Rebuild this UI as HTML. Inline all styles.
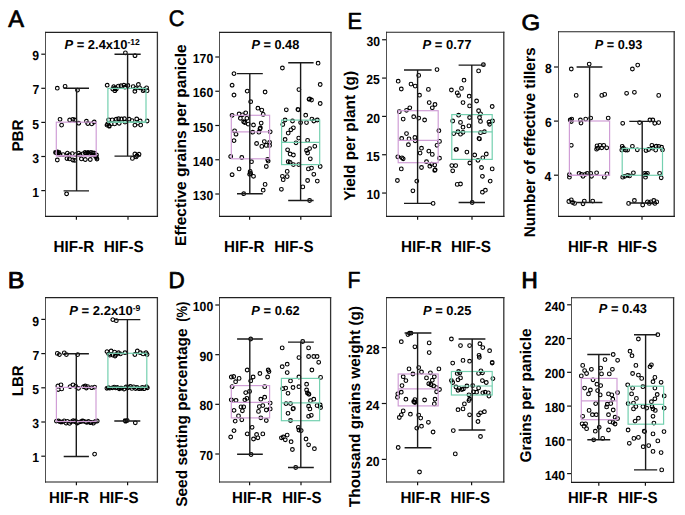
<!DOCTYPE html><html><head><meta charset="utf-8"><style>html,body{margin:0;padding:0;background:#fff;width:685px;height:515px;overflow:hidden}svg{display:block}text{font-family:"Liberation Sans", sans-serif;text-rendering:geometricPrecision}</style></head><body>
<svg width="685" height="515" viewBox="0 0 685 515">
<rect width="685" height="515" fill="#fff"/>
<text transform="translate(8.20 26.55) scale(0.9865 0.9872)" font-size="24.0" font-weight="normal" stroke="#000" stroke-width="0.70" stroke-linejoin="round">A</text>
<text transform="translate(23.30 151.62) rotate(-90) scale(1.0178 1.0368)" font-size="15.0" font-weight="bold">PBR</text>
<line x1="41.3" y1="190.60" x2="45.6" y2="190.60" stroke="#111" stroke-width="1.2"/>
<text transform="translate(32.18 196.70) scale(1.0000 1.0767)" font-size="12.2" font-weight="bold">1</text>
<line x1="41.3" y1="156.50" x2="45.6" y2="156.50" stroke="#111" stroke-width="1.2"/>
<text transform="translate(32.28 162.60) scale(1.0000 1.0767)" font-size="12.2" font-weight="bold">3</text>
<line x1="41.3" y1="122.40" x2="45.6" y2="122.40" stroke="#111" stroke-width="1.2"/>
<text transform="translate(32.18 128.50) scale(1.0000 1.0767)" font-size="12.2" font-weight="bold">5</text>
<line x1="41.3" y1="88.30" x2="45.6" y2="88.30" stroke="#111" stroke-width="1.2"/>
<text transform="translate(32.38 94.40) scale(1.0000 1.0767)" font-size="12.2" font-weight="bold">7</text>
<line x1="41.3" y1="54.20" x2="45.6" y2="54.20" stroke="#111" stroke-width="1.2"/>
<text transform="translate(32.29 60.30) scale(1.0000 1.0767)" font-size="12.2" font-weight="bold">9</text>
<line x1="76.4" y1="216.4" x2="76.4" y2="219.7" stroke="#111" stroke-width="1.2"/>
<line x1="128.0" y1="216.4" x2="128.0" y2="219.7" stroke="#111" stroke-width="1.2"/>
<text transform="translate(53.58 252.00) scale(1.0160 1.0659)" font-size="15.0" font-weight="bold">HIF-R</text>
<text transform="translate(103.78 252.00) scale(1.0193 1.0659)" font-size="15.0" font-weight="bold">HIF-S</text>
<text transform="translate(64.47 49.10) scale(1.0347 1.0349)" font-size="12.5" font-weight="bold"><tspan font-style="italic">P</tspan> = 2.4x10<tspan font-size="8.3" dy="-3.6">-12</tspan></text>
<path d="M55.45 88.20a1.85 1.85 0 1 0 3.70 0a1.85 1.85 0 1 0 -3.70 0zM63.25 86.30a1.85 1.85 0 1 0 3.70 0a1.85 1.85 0 1 0 -3.70 0zM75.65 90.10a1.85 1.85 0 1 0 3.70 0a1.85 1.85 0 1 0 -3.70 0zM58.15 119.30a1.85 1.85 0 1 0 3.70 0a1.85 1.85 0 1 0 -3.70 0zM59.75 125.10a1.85 1.85 0 1 0 3.70 0a1.85 1.85 0 1 0 -3.70 0zM67.85 120.00a1.85 1.85 0 1 0 3.70 0a1.85 1.85 0 1 0 -3.70 0zM71.05 119.30a1.85 1.85 0 1 0 3.70 0a1.85 1.85 0 1 0 -3.70 0zM72.95 120.00a1.85 1.85 0 1 0 3.70 0a1.85 1.85 0 1 0 -3.70 0zM76.85 123.20a1.85 1.85 0 1 0 3.70 0a1.85 1.85 0 1 0 -3.70 0zM84.55 121.20a1.85 1.85 0 1 0 3.70 0a1.85 1.85 0 1 0 -3.70 0zM85.95 123.50a1.85 1.85 0 1 0 3.70 0a1.85 1.85 0 1 0 -3.70 0zM89.85 123.90a1.85 1.85 0 1 0 3.70 0a1.85 1.85 0 1 0 -3.70 0zM92.35 122.00a1.85 1.85 0 1 0 3.70 0a1.85 1.85 0 1 0 -3.70 0zM54.35 152.70a1.85 1.85 0 1 0 3.70 0a1.85 1.85 0 1 0 -3.70 0zM56.25 153.60a1.85 1.85 0 1 0 3.70 0a1.85 1.85 0 1 0 -3.70 0zM58.15 154.60a1.85 1.85 0 1 0 3.70 0a1.85 1.85 0 1 0 -3.70 0zM55.45 160.00a1.85 1.85 0 1 0 3.70 0a1.85 1.85 0 1 0 -3.70 0zM61.25 154.60a1.85 1.85 0 1 0 3.70 0a1.85 1.85 0 1 0 -3.70 0zM65.55 153.10a1.85 1.85 0 1 0 3.70 0a1.85 1.85 0 1 0 -3.70 0zM65.15 158.50a1.85 1.85 0 1 0 3.70 0a1.85 1.85 0 1 0 -3.70 0zM67.55 154.60a1.85 1.85 0 1 0 3.70 0a1.85 1.85 0 1 0 -3.70 0zM70.45 153.60a1.85 1.85 0 1 0 3.70 0a1.85 1.85 0 1 0 -3.70 0zM71.05 160.00a1.85 1.85 0 1 0 3.70 0a1.85 1.85 0 1 0 -3.70 0zM73.75 154.60a1.85 1.85 0 1 0 3.70 0a1.85 1.85 0 1 0 -3.70 0zM76.85 153.10a1.85 1.85 0 1 0 3.70 0a1.85 1.85 0 1 0 -3.70 0zM78.15 155.00a1.85 1.85 0 1 0 3.70 0a1.85 1.85 0 1 0 -3.70 0zM79.55 158.90a1.85 1.85 0 1 0 3.70 0a1.85 1.85 0 1 0 -3.70 0zM81.15 153.60a1.85 1.85 0 1 0 3.70 0a1.85 1.85 0 1 0 -3.70 0zM83.45 159.50a1.85 1.85 0 1 0 3.70 0a1.85 1.85 0 1 0 -3.70 0zM84.95 153.10a1.85 1.85 0 1 0 3.70 0a1.85 1.85 0 1 0 -3.70 0zM87.35 153.60a1.85 1.85 0 1 0 3.70 0a1.85 1.85 0 1 0 -3.70 0zM88.45 159.50a1.85 1.85 0 1 0 3.70 0a1.85 1.85 0 1 0 -3.70 0zM90.45 154.60a1.85 1.85 0 1 0 3.70 0a1.85 1.85 0 1 0 -3.70 0zM92.75 153.10a1.85 1.85 0 1 0 3.70 0a1.85 1.85 0 1 0 -3.70 0zM93.75 156.60a1.85 1.85 0 1 0 3.70 0a1.85 1.85 0 1 0 -3.70 0zM94.65 155.00a1.85 1.85 0 1 0 3.70 0a1.85 1.85 0 1 0 -3.70 0zM72.95 160.40a1.85 1.85 0 1 0 3.70 0a1.85 1.85 0 1 0 -3.70 0zM67.55 158.90a1.85 1.85 0 1 0 3.70 0a1.85 1.85 0 1 0 -3.70 0zM53.65 152.50a1.85 1.85 0 1 0 3.70 0a1.85 1.85 0 1 0 -3.70 0zM55.65 151.80a1.85 1.85 0 1 0 3.70 0a1.85 1.85 0 1 0 -3.70 0zM57.15 152.50a1.85 1.85 0 1 0 3.70 0a1.85 1.85 0 1 0 -3.70 0zM83.15 152.50a1.85 1.85 0 1 0 3.70 0a1.85 1.85 0 1 0 -3.70 0zM86.15 152.50a1.85 1.85 0 1 0 3.70 0a1.85 1.85 0 1 0 -3.70 0zM89.15 152.50a1.85 1.85 0 1 0 3.70 0a1.85 1.85 0 1 0 -3.70 0zM91.15 153.00a1.85 1.85 0 1 0 3.70 0a1.85 1.85 0 1 0 -3.70 0zM94.65 157.50a1.85 1.85 0 1 0 3.70 0a1.85 1.85 0 1 0 -3.70 0zM95.15 159.00a1.85 1.85 0 1 0 3.70 0a1.85 1.85 0 1 0 -3.70 0zM64.75 193.80a1.85 1.85 0 1 0 3.70 0a1.85 1.85 0 1 0 -3.70 0z" fill="none" stroke="#000" stroke-width="1.10"/>
<path d="M123.55 52.90a1.85 1.85 0 1 0 3.70 0a1.85 1.85 0 1 0 -3.70 0zM133.15 55.70a1.85 1.85 0 1 0 3.70 0a1.85 1.85 0 1 0 -3.70 0zM105.35 85.20a1.85 1.85 0 1 0 3.70 0a1.85 1.85 0 1 0 -3.70 0zM111.85 86.60a1.85 1.85 0 1 0 3.70 0a1.85 1.85 0 1 0 -3.70 0zM110.95 89.00a1.85 1.85 0 1 0 3.70 0a1.85 1.85 0 1 0 -3.70 0zM113.05 90.70a1.85 1.85 0 1 0 3.70 0a1.85 1.85 0 1 0 -3.70 0zM114.45 89.00a1.85 1.85 0 1 0 3.70 0a1.85 1.85 0 1 0 -3.70 0zM116.55 86.10a1.85 1.85 0 1 0 3.70 0a1.85 1.85 0 1 0 -3.70 0zM119.15 85.70a1.85 1.85 0 1 0 3.70 0a1.85 1.85 0 1 0 -3.70 0zM122.05 85.20a1.85 1.85 0 1 0 3.70 0a1.85 1.85 0 1 0 -3.70 0zM123.15 87.20a1.85 1.85 0 1 0 3.70 0a1.85 1.85 0 1 0 -3.70 0zM126.05 85.50a1.85 1.85 0 1 0 3.70 0a1.85 1.85 0 1 0 -3.70 0zM131.35 86.60a1.85 1.85 0 1 0 3.70 0a1.85 1.85 0 1 0 -3.70 0zM133.05 91.30a1.85 1.85 0 1 0 3.70 0a1.85 1.85 0 1 0 -3.70 0zM133.65 88.40a1.85 1.85 0 1 0 3.70 0a1.85 1.85 0 1 0 -3.70 0zM136.55 84.50a1.85 1.85 0 1 0 3.70 0a1.85 1.85 0 1 0 -3.70 0zM137.75 87.80a1.85 1.85 0 1 0 3.70 0a1.85 1.85 0 1 0 -3.70 0zM141.25 90.70a1.85 1.85 0 1 0 3.70 0a1.85 1.85 0 1 0 -3.70 0zM144.75 87.80a1.85 1.85 0 1 0 3.70 0a1.85 1.85 0 1 0 -3.70 0zM145.25 90.70a1.85 1.85 0 1 0 3.70 0a1.85 1.85 0 1 0 -3.70 0zM142.35 89.60a1.85 1.85 0 1 0 3.70 0a1.85 1.85 0 1 0 -3.70 0zM113.25 88.00a1.85 1.85 0 1 0 3.70 0a1.85 1.85 0 1 0 -3.70 0zM106.85 119.80a1.85 1.85 0 1 0 3.70 0a1.85 1.85 0 1 0 -3.70 0zM105.75 123.90a1.85 1.85 0 1 0 3.70 0a1.85 1.85 0 1 0 -3.70 0zM107.25 125.60a1.85 1.85 0 1 0 3.70 0a1.85 1.85 0 1 0 -3.70 0zM109.25 123.90a1.85 1.85 0 1 0 3.70 0a1.85 1.85 0 1 0 -3.70 0zM110.35 119.80a1.85 1.85 0 1 0 3.70 0a1.85 1.85 0 1 0 -3.70 0zM112.75 123.90a1.85 1.85 0 1 0 3.70 0a1.85 1.85 0 1 0 -3.70 0zM114.45 119.20a1.85 1.85 0 1 0 3.70 0a1.85 1.85 0 1 0 -3.70 0zM116.75 118.70a1.85 1.85 0 1 0 3.70 0a1.85 1.85 0 1 0 -3.70 0zM117.35 123.30a1.85 1.85 0 1 0 3.70 0a1.85 1.85 0 1 0 -3.70 0zM119.65 119.00a1.85 1.85 0 1 0 3.70 0a1.85 1.85 0 1 0 -3.70 0zM122.55 118.70a1.85 1.85 0 1 0 3.70 0a1.85 1.85 0 1 0 -3.70 0zM123.15 122.10a1.85 1.85 0 1 0 3.70 0a1.85 1.85 0 1 0 -3.70 0zM127.25 119.20a1.85 1.85 0 1 0 3.70 0a1.85 1.85 0 1 0 -3.70 0zM130.15 120.60a1.85 1.85 0 1 0 3.70 0a1.85 1.85 0 1 0 -3.70 0zM133.05 125.10a1.85 1.85 0 1 0 3.70 0a1.85 1.85 0 1 0 -3.70 0zM134.85 119.00a1.85 1.85 0 1 0 3.70 0a1.85 1.85 0 1 0 -3.70 0zM135.95 123.00a1.85 1.85 0 1 0 3.70 0a1.85 1.85 0 1 0 -3.70 0zM138.85 125.10a1.85 1.85 0 1 0 3.70 0a1.85 1.85 0 1 0 -3.70 0zM138.35 121.00a1.85 1.85 0 1 0 3.70 0a1.85 1.85 0 1 0 -3.70 0zM145.25 121.00a1.85 1.85 0 1 0 3.70 0a1.85 1.85 0 1 0 -3.70 0zM105.15 125.10a1.85 1.85 0 1 0 3.70 0a1.85 1.85 0 1 0 -3.70 0zM107.45 126.20a1.85 1.85 0 1 0 3.70 0a1.85 1.85 0 1 0 -3.70 0zM130.55 158.40a1.85 1.85 0 1 0 3.70 0a1.85 1.85 0 1 0 -3.70 0zM133.05 154.00a1.85 1.85 0 1 0 3.70 0a1.85 1.85 0 1 0 -3.70 0zM135.15 155.70a1.85 1.85 0 1 0 3.70 0a1.85 1.85 0 1 0 -3.70 0zM137.15 154.20a1.85 1.85 0 1 0 3.70 0a1.85 1.85 0 1 0 -3.70 0zM134.25 156.90a1.85 1.85 0 1 0 3.70 0a1.85 1.85 0 1 0 -3.70 0z" fill="none" stroke="#000" stroke-width="1.10"/>
<rect x="56.30" y="122.20" width="39.90" height="33.70" fill="none" stroke="#d09ed6" stroke-width="1.20"/>
<line x1="56.30" y1="155.90" x2="96.20" y2="155.90" stroke="#d09ed6" stroke-width="1.20"/>
<rect x="107.90" y="88.40" width="38.10" height="33.70" fill="none" stroke="#74d0b0" stroke-width="1.20"/>
<line x1="107.90" y1="122.10" x2="146.00" y2="122.10" stroke="#74d0b0" stroke-width="1.20"/>
<path d="M76.60 190.90V88.20M63.60 190.90H89.00M63.60 88.20H89.00" stroke="#1a1a1a" stroke-width="1.40" fill="none"/>
<path d="M127.60 156.10V54.30M114.50 156.10H140.70M114.50 54.30H140.70" stroke="#1a1a1a" stroke-width="1.40" fill="none"/>
<path d="M45.50 31.90V217.00" stroke="#505050" stroke-width="1.0" fill="none"/>
<path d="M45.00 32.40H158.00" stroke="#222" stroke-width="1.1" fill="none"/>
<path d="M157.40 31.90V217.00" stroke="#333" stroke-width="1.3" fill="none"/>
<path d="M45.00 216.40H158.00" stroke="#1a1a1a" stroke-width="1.2" fill="none"/>
<text transform="translate(7.77 287.57) scale(1.0451 0.9539)" font-size="24.0" font-weight="normal" stroke="#000" stroke-width="0.85" stroke-linejoin="round">B</text>
<text transform="translate(23.30 396.20) rotate(-90) scale(0.9994 1.0368)" font-size="15.0" font-weight="bold">LBR</text>
<line x1="41.3" y1="456.20" x2="45.6" y2="456.20" stroke="#111" stroke-width="1.2"/>
<text transform="translate(32.18 462.30) scale(1.0000 1.0767)" font-size="12.2" font-weight="bold">1</text>
<line x1="41.3" y1="422.00" x2="45.6" y2="422.00" stroke="#111" stroke-width="1.2"/>
<text transform="translate(32.28 428.10) scale(1.0000 1.0767)" font-size="12.2" font-weight="bold">3</text>
<line x1="41.3" y1="387.80" x2="45.6" y2="387.80" stroke="#111" stroke-width="1.2"/>
<text transform="translate(32.18 393.90) scale(1.0000 1.0767)" font-size="12.2" font-weight="bold">5</text>
<line x1="41.3" y1="353.60" x2="45.6" y2="353.60" stroke="#111" stroke-width="1.2"/>
<text transform="translate(32.38 359.70) scale(1.0000 1.0767)" font-size="12.2" font-weight="bold">7</text>
<line x1="41.3" y1="319.40" x2="45.6" y2="319.40" stroke="#111" stroke-width="1.2"/>
<text transform="translate(32.29 325.50) scale(1.0000 1.0767)" font-size="12.2" font-weight="bold">9</text>
<line x1="76.4" y1="482.0" x2="76.4" y2="485.3" stroke="#111" stroke-width="1.2"/>
<line x1="127.6" y1="482.0" x2="127.6" y2="485.3" stroke="#111" stroke-width="1.2"/>
<text transform="translate(49.10 502.80) scale(1.0005 1.0659)" font-size="15.0" font-weight="bold">HIF-R</text>
<text transform="translate(99.19 502.80) scale(1.0060 1.0659)" font-size="15.0" font-weight="bold">HIF-S</text>
<text transform="translate(69.17 315.00) scale(1.0448 1.0349)" font-size="12.5" font-weight="bold"><tspan font-style="italic">P</tspan> = 2.2x10<tspan font-size="8.3" dy="-3.6">-9</tspan></text>
<path d="M55.45 353.40a1.85 1.85 0 1 0 3.70 0a1.85 1.85 0 1 0 -3.70 0zM57.55 354.60a1.85 1.85 0 1 0 3.70 0a1.85 1.85 0 1 0 -3.70 0zM62.45 352.80a1.85 1.85 0 1 0 3.70 0a1.85 1.85 0 1 0 -3.70 0zM64.55 354.60a1.85 1.85 0 1 0 3.70 0a1.85 1.85 0 1 0 -3.70 0zM75.85 354.60a1.85 1.85 0 1 0 3.70 0a1.85 1.85 0 1 0 -3.70 0zM56.05 386.00a1.85 1.85 0 1 0 3.70 0a1.85 1.85 0 1 0 -3.70 0zM59.15 384.80a1.85 1.85 0 1 0 3.70 0a1.85 1.85 0 1 0 -3.70 0zM56.35 389.50a1.85 1.85 0 1 0 3.70 0a1.85 1.85 0 1 0 -3.70 0zM59.85 388.90a1.85 1.85 0 1 0 3.70 0a1.85 1.85 0 1 0 -3.70 0zM68.25 386.60a1.85 1.85 0 1 0 3.70 0a1.85 1.85 0 1 0 -3.70 0zM71.15 384.80a1.85 1.85 0 1 0 3.70 0a1.85 1.85 0 1 0 -3.70 0zM73.85 386.30a1.85 1.85 0 1 0 3.70 0a1.85 1.85 0 1 0 -3.70 0zM76.65 388.30a1.85 1.85 0 1 0 3.70 0a1.85 1.85 0 1 0 -3.70 0zM81.65 386.60a1.85 1.85 0 1 0 3.70 0a1.85 1.85 0 1 0 -3.70 0zM83.45 386.00a1.85 1.85 0 1 0 3.70 0a1.85 1.85 0 1 0 -3.70 0zM85.75 386.60a1.85 1.85 0 1 0 3.70 0a1.85 1.85 0 1 0 -3.70 0zM84.55 388.00a1.85 1.85 0 1 0 3.70 0a1.85 1.85 0 1 0 -3.70 0zM89.85 387.70a1.85 1.85 0 1 0 3.70 0a1.85 1.85 0 1 0 -3.70 0zM92.75 387.10a1.85 1.85 0 1 0 3.70 0a1.85 1.85 0 1 0 -3.70 0zM54.55 421.10a1.85 1.85 0 1 0 3.70 0a1.85 1.85 0 1 0 -3.70 0zM56.55 420.80a1.85 1.85 0 1 0 3.70 0a1.85 1.85 0 1 0 -3.70 0zM57.95 421.70a1.85 1.85 0 1 0 3.70 0a1.85 1.85 0 1 0 -3.70 0zM59.05 422.10a1.85 1.85 0 1 0 3.70 0a1.85 1.85 0 1 0 -3.70 0zM60.55 421.90a1.85 1.85 0 1 0 3.70 0a1.85 1.85 0 1 0 -3.70 0zM62.25 420.90a1.85 1.85 0 1 0 3.70 0a1.85 1.85 0 1 0 -3.70 0zM64.25 423.10a1.85 1.85 0 1 0 3.70 0a1.85 1.85 0 1 0 -3.70 0zM65.45 421.30a1.85 1.85 0 1 0 3.70 0a1.85 1.85 0 1 0 -3.70 0zM67.75 423.40a1.85 1.85 0 1 0 3.70 0a1.85 1.85 0 1 0 -3.70 0zM69.25 421.80a1.85 1.85 0 1 0 3.70 0a1.85 1.85 0 1 0 -3.70 0zM71.35 420.70a1.85 1.85 0 1 0 3.70 0a1.85 1.85 0 1 0 -3.70 0zM72.75 421.50a1.85 1.85 0 1 0 3.70 0a1.85 1.85 0 1 0 -3.70 0zM73.55 421.00a1.85 1.85 0 1 0 3.70 0a1.85 1.85 0 1 0 -3.70 0zM75.35 423.00a1.85 1.85 0 1 0 3.70 0a1.85 1.85 0 1 0 -3.70 0zM76.75 422.30a1.85 1.85 0 1 0 3.70 0a1.85 1.85 0 1 0 -3.70 0zM78.95 421.70a1.85 1.85 0 1 0 3.70 0a1.85 1.85 0 1 0 -3.70 0zM80.45 420.80a1.85 1.85 0 1 0 3.70 0a1.85 1.85 0 1 0 -3.70 0zM81.45 421.20a1.85 1.85 0 1 0 3.70 0a1.85 1.85 0 1 0 -3.70 0zM83.75 421.90a1.85 1.85 0 1 0 3.70 0a1.85 1.85 0 1 0 -3.70 0zM84.95 422.40a1.85 1.85 0 1 0 3.70 0a1.85 1.85 0 1 0 -3.70 0zM86.65 421.50a1.85 1.85 0 1 0 3.70 0a1.85 1.85 0 1 0 -3.70 0zM88.75 422.70a1.85 1.85 0 1 0 3.70 0a1.85 1.85 0 1 0 -3.70 0zM89.65 422.30a1.85 1.85 0 1 0 3.70 0a1.85 1.85 0 1 0 -3.70 0zM91.55 423.20a1.85 1.85 0 1 0 3.70 0a1.85 1.85 0 1 0 -3.70 0zM93.45 421.50a1.85 1.85 0 1 0 3.70 0a1.85 1.85 0 1 0 -3.70 0zM95.35 421.00a1.85 1.85 0 1 0 3.70 0a1.85 1.85 0 1 0 -3.70 0zM92.75 454.10a1.85 1.85 0 1 0 3.70 0a1.85 1.85 0 1 0 -3.70 0z" fill="none" stroke="#000" stroke-width="1.10"/>
<path d="M110.95 319.60a1.85 1.85 0 1 0 3.70 0a1.85 1.85 0 1 0 -3.70 0zM114.45 320.70a1.85 1.85 0 1 0 3.70 0a1.85 1.85 0 1 0 -3.70 0zM105.15 351.60a1.85 1.85 0 1 0 3.70 0a1.85 1.85 0 1 0 -3.70 0zM106.85 353.90a1.85 1.85 0 1 0 3.70 0a1.85 1.85 0 1 0 -3.70 0zM109.25 351.00a1.85 1.85 0 1 0 3.70 0a1.85 1.85 0 1 0 -3.70 0zM110.95 355.10a1.85 1.85 0 1 0 3.70 0a1.85 1.85 0 1 0 -3.70 0zM112.75 352.10a1.85 1.85 0 1 0 3.70 0a1.85 1.85 0 1 0 -3.70 0zM114.45 354.50a1.85 1.85 0 1 0 3.70 0a1.85 1.85 0 1 0 -3.70 0zM116.75 352.70a1.85 1.85 0 1 0 3.70 0a1.85 1.85 0 1 0 -3.70 0zM118.55 353.90a1.85 1.85 0 1 0 3.70 0a1.85 1.85 0 1 0 -3.70 0zM123.15 352.70a1.85 1.85 0 1 0 3.70 0a1.85 1.85 0 1 0 -3.70 0zM133.05 354.50a1.85 1.85 0 1 0 3.70 0a1.85 1.85 0 1 0 -3.70 0zM135.45 351.00a1.85 1.85 0 1 0 3.70 0a1.85 1.85 0 1 0 -3.70 0zM138.35 352.70a1.85 1.85 0 1 0 3.70 0a1.85 1.85 0 1 0 -3.70 0zM141.25 353.90a1.85 1.85 0 1 0 3.70 0a1.85 1.85 0 1 0 -3.70 0zM144.15 352.70a1.85 1.85 0 1 0 3.70 0a1.85 1.85 0 1 0 -3.70 0zM145.25 354.50a1.85 1.85 0 1 0 3.70 0a1.85 1.85 0 1 0 -3.70 0zM108.05 355.10a1.85 1.85 0 1 0 3.70 0a1.85 1.85 0 1 0 -3.70 0zM113.25 356.00a1.85 1.85 0 1 0 3.70 0a1.85 1.85 0 1 0 -3.70 0zM105.05 388.30a1.85 1.85 0 1 0 3.70 0a1.85 1.85 0 1 0 -3.70 0zM106.45 387.60a1.85 1.85 0 1 0 3.70 0a1.85 1.85 0 1 0 -3.70 0zM107.95 388.10a1.85 1.85 0 1 0 3.70 0a1.85 1.85 0 1 0 -3.70 0zM110.55 387.80a1.85 1.85 0 1 0 3.70 0a1.85 1.85 0 1 0 -3.70 0zM112.35 387.10a1.85 1.85 0 1 0 3.70 0a1.85 1.85 0 1 0 -3.70 0zM113.85 387.90a1.85 1.85 0 1 0 3.70 0a1.85 1.85 0 1 0 -3.70 0zM115.45 387.50a1.85 1.85 0 1 0 3.70 0a1.85 1.85 0 1 0 -3.70 0zM117.45 388.80a1.85 1.85 0 1 0 3.70 0a1.85 1.85 0 1 0 -3.70 0zM118.65 388.10a1.85 1.85 0 1 0 3.70 0a1.85 1.85 0 1 0 -3.70 0zM119.85 388.20a1.85 1.85 0 1 0 3.70 0a1.85 1.85 0 1 0 -3.70 0zM122.25 389.00a1.85 1.85 0 1 0 3.70 0a1.85 1.85 0 1 0 -3.70 0zM124.15 387.00a1.85 1.85 0 1 0 3.70 0a1.85 1.85 0 1 0 -3.70 0zM125.35 388.10a1.85 1.85 0 1 0 3.70 0a1.85 1.85 0 1 0 -3.70 0zM126.65 387.50a1.85 1.85 0 1 0 3.70 0a1.85 1.85 0 1 0 -3.70 0zM128.45 386.50a1.85 1.85 0 1 0 3.70 0a1.85 1.85 0 1 0 -3.70 0zM130.05 388.40a1.85 1.85 0 1 0 3.70 0a1.85 1.85 0 1 0 -3.70 0zM131.85 386.90a1.85 1.85 0 1 0 3.70 0a1.85 1.85 0 1 0 -3.70 0zM133.85 388.60a1.85 1.85 0 1 0 3.70 0a1.85 1.85 0 1 0 -3.70 0zM135.15 387.50a1.85 1.85 0 1 0 3.70 0a1.85 1.85 0 1 0 -3.70 0zM137.45 388.70a1.85 1.85 0 1 0 3.70 0a1.85 1.85 0 1 0 -3.70 0zM139.45 388.60a1.85 1.85 0 1 0 3.70 0a1.85 1.85 0 1 0 -3.70 0zM140.45 387.40a1.85 1.85 0 1 0 3.70 0a1.85 1.85 0 1 0 -3.70 0zM142.25 388.70a1.85 1.85 0 1 0 3.70 0a1.85 1.85 0 1 0 -3.70 0zM144.65 386.60a1.85 1.85 0 1 0 3.70 0a1.85 1.85 0 1 0 -3.70 0zM145.45 387.80a1.85 1.85 0 1 0 3.70 0a1.85 1.85 0 1 0 -3.70 0zM123.25 420.70a1.85 1.85 0 1 0 3.70 0a1.85 1.85 0 1 0 -3.70 0zM123.75 421.20a1.85 1.85 0 1 0 3.70 0a1.85 1.85 0 1 0 -3.70 0zM125.35 420.50a1.85 1.85 0 1 0 3.70 0a1.85 1.85 0 1 0 -3.70 0zM133.45 422.80a1.85 1.85 0 1 0 3.70 0a1.85 1.85 0 1 0 -3.70 0z" fill="none" stroke="#000" stroke-width="1.10"/>
<rect x="56.40" y="387.40" width="39.60" height="34.10" fill="none" stroke="#d09ed6" stroke-width="1.20"/>
<line x1="56.40" y1="421.50" x2="96.00" y2="421.50" stroke="#d09ed6" stroke-width="1.20"/>
<rect x="107.90" y="353.30" width="38.90" height="34.10" fill="none" stroke="#74d0b0" stroke-width="1.20"/>
<line x1="107.90" y1="387.40" x2="146.80" y2="387.40" stroke="#74d0b0" stroke-width="1.20"/>
<path d="M76.30 456.50V353.70M63.70 456.50H88.90M63.70 353.70H88.90" stroke="#1a1a1a" stroke-width="1.40" fill="none"/>
<path d="M127.40 421.00V319.60M114.30 421.00H140.30M114.30 319.60H140.30" stroke="#1a1a1a" stroke-width="1.40" fill="none"/>
<path d="M45.50 297.10V482.60" stroke="#505050" stroke-width="1.0" fill="none"/>
<path d="M45.00 297.60H158.00" stroke="#222" stroke-width="1.1" fill="none"/>
<path d="M157.40 297.10V482.60" stroke="#333" stroke-width="1.3" fill="none"/>
<path d="M45.00 482.00H158.00" stroke="#1a1a1a" stroke-width="1.2" fill="none"/>
<text transform="translate(168.79 26.18) scale(0.9079 0.9416)" font-size="24.0" font-weight="normal" stroke="#000" stroke-width="0.60" stroke-linejoin="round">C</text>
<text transform="translate(186.00 245.94) rotate(-90) scale(1.0338 1.0368)" font-size="15.0" font-weight="bold">Effective grains per panicle</text>
<line x1="215.3" y1="194.00" x2="219.6" y2="194.00" stroke="#111" stroke-width="1.2"/>
<text transform="translate(192.83 200.10) scale(1.0000 1.0767)" font-size="12.2" font-weight="bold">130</text>
<line x1="215.3" y1="159.75" x2="219.6" y2="159.75" stroke="#111" stroke-width="1.2"/>
<text transform="translate(192.83 165.85) scale(1.0000 1.0767)" font-size="12.2" font-weight="bold">140</text>
<line x1="215.3" y1="125.50" x2="219.6" y2="125.50" stroke="#111" stroke-width="1.2"/>
<text transform="translate(192.83 131.60) scale(1.0000 1.0767)" font-size="12.2" font-weight="bold">150</text>
<line x1="215.3" y1="91.25" x2="219.6" y2="91.25" stroke="#111" stroke-width="1.2"/>
<text transform="translate(192.83 97.35) scale(1.0000 1.0767)" font-size="12.2" font-weight="bold">160</text>
<line x1="215.3" y1="57.00" x2="219.6" y2="57.00" stroke="#111" stroke-width="1.2"/>
<text transform="translate(192.83 63.10) scale(1.0000 1.0767)" font-size="12.2" font-weight="bold">170</text>
<line x1="249.6" y1="216.4" x2="249.6" y2="219.7" stroke="#111" stroke-width="1.2"/>
<line x1="300.8" y1="216.4" x2="300.8" y2="219.7" stroke="#111" stroke-width="1.2"/>
<text transform="translate(224.09 252.00) scale(1.0083 1.0659)" font-size="15.0" font-weight="bold">HIF-R</text>
<text transform="translate(274.19 252.00) scale(1.0087 1.0659)" font-size="15.0" font-weight="bold">HIF-S</text>
<text transform="translate(251.38 49.30) scale(1.0218 1.0349)" font-size="12.5" font-weight="bold"><tspan font-style="italic">P</tspan> = 0.48</text>
<path d="M232.15 73.60a1.85 1.85 0 1 0 3.70 0a1.85 1.85 0 1 0 -3.70 0zM230.25 85.20a1.85 1.85 0 1 0 3.70 0a1.85 1.85 0 1 0 -3.70 0zM232.15 95.00a1.85 1.85 0 1 0 3.70 0a1.85 1.85 0 1 0 -3.70 0zM245.35 91.10a1.85 1.85 0 1 0 3.70 0a1.85 1.85 0 1 0 -3.70 0zM263.25 92.00a1.85 1.85 0 1 0 3.70 0a1.85 1.85 0 1 0 -3.70 0zM248.85 101.70a1.85 1.85 0 1 0 3.70 0a1.85 1.85 0 1 0 -3.70 0zM256.05 108.20a1.85 1.85 0 1 0 3.70 0a1.85 1.85 0 1 0 -3.70 0zM259.95 110.10a1.85 1.85 0 1 0 3.70 0a1.85 1.85 0 1 0 -3.70 0zM261.35 114.40a1.85 1.85 0 1 0 3.70 0a1.85 1.85 0 1 0 -3.70 0zM230.25 115.30a1.85 1.85 0 1 0 3.70 0a1.85 1.85 0 1 0 -3.70 0zM237.25 114.00a1.85 1.85 0 1 0 3.70 0a1.85 1.85 0 1 0 -3.70 0zM240.55 114.80a1.85 1.85 0 1 0 3.70 0a1.85 1.85 0 1 0 -3.70 0zM243.85 112.80a1.85 1.85 0 1 0 3.70 0a1.85 1.85 0 1 0 -3.70 0zM238.55 118.30a1.85 1.85 0 1 0 3.70 0a1.85 1.85 0 1 0 -3.70 0zM241.85 121.70a1.85 1.85 0 1 0 3.70 0a1.85 1.85 0 1 0 -3.70 0zM245.05 118.30a1.85 1.85 0 1 0 3.70 0a1.85 1.85 0 1 0 -3.70 0zM243.05 122.50a1.85 1.85 0 1 0 3.70 0a1.85 1.85 0 1 0 -3.70 0zM246.35 124.10a1.85 1.85 0 1 0 3.70 0a1.85 1.85 0 1 0 -3.70 0zM251.65 125.00a1.85 1.85 0 1 0 3.70 0a1.85 1.85 0 1 0 -3.70 0zM259.35 123.10a1.85 1.85 0 1 0 3.70 0a1.85 1.85 0 1 0 -3.70 0zM258.05 128.90a1.85 1.85 0 1 0 3.70 0a1.85 1.85 0 1 0 -3.70 0zM258.55 128.00a1.85 1.85 0 1 0 3.70 0a1.85 1.85 0 1 0 -3.70 0zM232.75 130.90a1.85 1.85 0 1 0 3.70 0a1.85 1.85 0 1 0 -3.70 0zM234.15 134.20a1.85 1.85 0 1 0 3.70 0a1.85 1.85 0 1 0 -3.70 0zM250.85 132.20a1.85 1.85 0 1 0 3.70 0a1.85 1.85 0 1 0 -3.70 0zM257.05 132.20a1.85 1.85 0 1 0 3.70 0a1.85 1.85 0 1 0 -3.70 0zM268.35 131.80a1.85 1.85 0 1 0 3.70 0a1.85 1.85 0 1 0 -3.70 0zM232.15 140.60a1.85 1.85 0 1 0 3.70 0a1.85 1.85 0 1 0 -3.70 0zM254.75 143.50a1.85 1.85 0 1 0 3.70 0a1.85 1.85 0 1 0 -3.70 0zM262.45 141.60a1.85 1.85 0 1 0 3.70 0a1.85 1.85 0 1 0 -3.70 0zM259.95 146.40a1.85 1.85 0 1 0 3.70 0a1.85 1.85 0 1 0 -3.70 0zM264.45 145.40a1.85 1.85 0 1 0 3.70 0a1.85 1.85 0 1 0 -3.70 0zM267.75 142.50a1.85 1.85 0 1 0 3.70 0a1.85 1.85 0 1 0 -3.70 0zM267.75 145.40a1.85 1.85 0 1 0 3.70 0a1.85 1.85 0 1 0 -3.70 0zM228.85 156.50a1.85 1.85 0 1 0 3.70 0a1.85 1.85 0 1 0 -3.70 0zM239.95 157.50a1.85 1.85 0 1 0 3.70 0a1.85 1.85 0 1 0 -3.70 0zM265.75 159.50a1.85 1.85 0 1 0 3.70 0a1.85 1.85 0 1 0 -3.70 0zM266.35 161.10a1.85 1.85 0 1 0 3.70 0a1.85 1.85 0 1 0 -3.70 0zM249.65 161.70a1.85 1.85 0 1 0 3.70 0a1.85 1.85 0 1 0 -3.70 0zM264.45 166.50a1.85 1.85 0 1 0 3.70 0a1.85 1.85 0 1 0 -3.70 0zM237.25 168.90a1.85 1.85 0 1 0 3.70 0a1.85 1.85 0 1 0 -3.70 0zM230.25 174.70a1.85 1.85 0 1 0 3.70 0a1.85 1.85 0 1 0 -3.70 0zM248.35 171.40a1.85 1.85 0 1 0 3.70 0a1.85 1.85 0 1 0 -3.70 0zM247.75 174.30a1.85 1.85 0 1 0 3.70 0a1.85 1.85 0 1 0 -3.70 0zM248.85 173.30a1.85 1.85 0 1 0 3.70 0a1.85 1.85 0 1 0 -3.70 0zM251.65 176.30a1.85 1.85 0 1 0 3.70 0a1.85 1.85 0 1 0 -3.70 0zM263.25 184.40a1.85 1.85 0 1 0 3.70 0a1.85 1.85 0 1 0 -3.70 0zM261.35 190.20a1.85 1.85 0 1 0 3.70 0a1.85 1.85 0 1 0 -3.70 0zM241.85 193.70a1.85 1.85 0 1 0 3.70 0a1.85 1.85 0 1 0 -3.70 0z" fill="none" stroke="#000" stroke-width="1.10"/>
<path d="M280.55 68.00a1.85 1.85 0 1 0 3.70 0a1.85 1.85 0 1 0 -3.70 0zM316.25 63.20a1.85 1.85 0 1 0 3.70 0a1.85 1.85 0 1 0 -3.70 0zM318.35 84.50a1.85 1.85 0 1 0 3.70 0a1.85 1.85 0 1 0 -3.70 0zM297.05 89.60a1.85 1.85 0 1 0 3.70 0a1.85 1.85 0 1 0 -3.70 0zM307.15 99.30a1.85 1.85 0 1 0 3.70 0a1.85 1.85 0 1 0 -3.70 0zM307.65 99.00a1.85 1.85 0 1 0 3.70 0a1.85 1.85 0 1 0 -3.70 0zM309.65 100.00a1.85 1.85 0 1 0 3.70 0a1.85 1.85 0 1 0 -3.70 0zM318.35 103.50a1.85 1.85 0 1 0 3.70 0a1.85 1.85 0 1 0 -3.70 0zM284.45 109.80a1.85 1.85 0 1 0 3.70 0a1.85 1.85 0 1 0 -3.70 0zM296.05 109.40a1.85 1.85 0 1 0 3.70 0a1.85 1.85 0 1 0 -3.70 0zM296.45 109.80a1.85 1.85 0 1 0 3.70 0a1.85 1.85 0 1 0 -3.70 0zM303.85 115.20a1.85 1.85 0 1 0 3.70 0a1.85 1.85 0 1 0 -3.70 0zM283.25 120.00a1.85 1.85 0 1 0 3.70 0a1.85 1.85 0 1 0 -3.70 0zM290.65 121.00a1.85 1.85 0 1 0 3.70 0a1.85 1.85 0 1 0 -3.70 0zM280.95 124.50a1.85 1.85 0 1 0 3.70 0a1.85 1.85 0 1 0 -3.70 0zM298.75 122.60a1.85 1.85 0 1 0 3.70 0a1.85 1.85 0 1 0 -3.70 0zM304.65 122.60a1.85 1.85 0 1 0 3.70 0a1.85 1.85 0 1 0 -3.70 0zM310.05 119.10a1.85 1.85 0 1 0 3.70 0a1.85 1.85 0 1 0 -3.70 0zM311.95 121.00a1.85 1.85 0 1 0 3.70 0a1.85 1.85 0 1 0 -3.70 0zM315.45 120.00a1.85 1.85 0 1 0 3.70 0a1.85 1.85 0 1 0 -3.70 0zM291.55 127.80a1.85 1.85 0 1 0 3.70 0a1.85 1.85 0 1 0 -3.70 0zM289.05 129.80a1.85 1.85 0 1 0 3.70 0a1.85 1.85 0 1 0 -3.70 0zM286.35 133.10a1.85 1.85 0 1 0 3.70 0a1.85 1.85 0 1 0 -3.70 0zM283.25 139.50a1.85 1.85 0 1 0 3.70 0a1.85 1.85 0 1 0 -3.70 0zM296.85 138.10a1.85 1.85 0 1 0 3.70 0a1.85 1.85 0 1 0 -3.70 0zM294.15 142.80a1.85 1.85 0 1 0 3.70 0a1.85 1.85 0 1 0 -3.70 0zM305.75 140.40a1.85 1.85 0 1 0 3.70 0a1.85 1.85 0 1 0 -3.70 0zM285.75 149.80a1.85 1.85 0 1 0 3.70 0a1.85 1.85 0 1 0 -3.70 0zM288.25 154.00a1.85 1.85 0 1 0 3.70 0a1.85 1.85 0 1 0 -3.70 0zM291.55 155.00a1.85 1.85 0 1 0 3.70 0a1.85 1.85 0 1 0 -3.70 0zM304.65 150.50a1.85 1.85 0 1 0 3.70 0a1.85 1.85 0 1 0 -3.70 0zM307.75 148.60a1.85 1.85 0 1 0 3.70 0a1.85 1.85 0 1 0 -3.70 0zM312.95 146.30a1.85 1.85 0 1 0 3.70 0a1.85 1.85 0 1 0 -3.70 0zM305.75 153.00a1.85 1.85 0 1 0 3.70 0a1.85 1.85 0 1 0 -3.70 0zM308.45 158.80a1.85 1.85 0 1 0 3.70 0a1.85 1.85 0 1 0 -3.70 0zM286.35 161.70a1.85 1.85 0 1 0 3.70 0a1.85 1.85 0 1 0 -3.70 0zM288.25 162.30a1.85 1.85 0 1 0 3.70 0a1.85 1.85 0 1 0 -3.70 0zM291.55 164.60a1.85 1.85 0 1 0 3.70 0a1.85 1.85 0 1 0 -3.70 0zM296.85 164.60a1.85 1.85 0 1 0 3.70 0a1.85 1.85 0 1 0 -3.70 0zM306.55 168.90a1.85 1.85 0 1 0 3.70 0a1.85 1.85 0 1 0 -3.70 0zM309.65 168.10a1.85 1.85 0 1 0 3.70 0a1.85 1.85 0 1 0 -3.70 0zM318.35 166.50a1.85 1.85 0 1 0 3.70 0a1.85 1.85 0 1 0 -3.70 0zM285.35 171.40a1.85 1.85 0 1 0 3.70 0a1.85 1.85 0 1 0 -3.70 0zM280.55 176.30a1.85 1.85 0 1 0 3.70 0a1.85 1.85 0 1 0 -3.70 0zM285.35 176.60a1.85 1.85 0 1 0 3.70 0a1.85 1.85 0 1 0 -3.70 0zM281.35 179.70a1.85 1.85 0 1 0 3.70 0a1.85 1.85 0 1 0 -3.70 0zM311.95 174.30a1.85 1.85 0 1 0 3.70 0a1.85 1.85 0 1 0 -3.70 0zM305.75 180.50a1.85 1.85 0 1 0 3.70 0a1.85 1.85 0 1 0 -3.70 0zM315.45 181.10a1.85 1.85 0 1 0 3.70 0a1.85 1.85 0 1 0 -3.70 0zM300.95 186.90a1.85 1.85 0 1 0 3.70 0a1.85 1.85 0 1 0 -3.70 0zM279.55 189.30a1.85 1.85 0 1 0 3.70 0a1.85 1.85 0 1 0 -3.70 0zM307.75 200.50a1.85 1.85 0 1 0 3.70 0a1.85 1.85 0 1 0 -3.70 0z" fill="none" stroke="#000" stroke-width="1.10"/>
<rect x="231.30" y="115.30" width="38.30" height="43.50" fill="none" stroke="#d09ed6" stroke-width="1.20"/>
<line x1="231.30" y1="131.90" x2="269.60" y2="131.90" stroke="#d09ed6" stroke-width="1.20"/>
<rect x="281.60" y="120.10" width="38.10" height="44.50" fill="none" stroke="#74d0b0" stroke-width="1.20"/>
<line x1="281.60" y1="142.35" x2="319.70" y2="142.35" stroke="#74d0b0" stroke-width="1.20"/>
<path d="M249.80 193.70V73.60M237.00 193.70H262.80M237.00 73.60H262.80" stroke="#1a1a1a" stroke-width="1.40" fill="none"/>
<path d="M300.60 200.50V62.80M288.20 200.50H313.60M288.20 62.80H313.60" stroke="#1a1a1a" stroke-width="1.40" fill="none"/>
<path d="M219.50 31.90V217.00" stroke="#505050" stroke-width="1.0" fill="none"/>
<path d="M219.00 32.40H331.60" stroke="#222" stroke-width="1.1" fill="none"/>
<path d="M331.00 31.90V217.00" stroke="#333" stroke-width="1.3" fill="none"/>
<path d="M219.00 216.40H331.60" stroke="#1a1a1a" stroke-width="1.2" fill="none"/>
<text transform="translate(168.46 287.50) scale(0.9356 0.9569)" font-size="24.0" font-weight="normal" stroke="#000" stroke-width="0.80" stroke-linejoin="round">D</text>
<text transform="translate(186.50 506.74) rotate(-90) scale(1.0282 1.0368)" font-size="15.0" font-weight="bold">Seed setting percentage</text>
<text transform="translate(186.80 321.84) rotate(-90) scale(0.8611 0.9850)" font-size="15.0" font-weight="bold">(%)</text>
<line x1="215.3" y1="454.00" x2="219.6" y2="454.00" stroke="#111" stroke-width="1.2"/>
<text transform="translate(199.58 460.10) scale(1.0000 1.0767)" font-size="12.2" font-weight="bold">70</text>
<line x1="215.3" y1="404.33" x2="219.6" y2="404.33" stroke="#111" stroke-width="1.2"/>
<text transform="translate(199.58 410.43) scale(1.0000 1.0767)" font-size="12.2" font-weight="bold">80</text>
<line x1="215.3" y1="354.67" x2="219.6" y2="354.67" stroke="#111" stroke-width="1.2"/>
<text transform="translate(199.58 360.77) scale(1.0000 1.0767)" font-size="12.2" font-weight="bold">90</text>
<line x1="215.3" y1="305.00" x2="219.6" y2="305.00" stroke="#111" stroke-width="1.2"/>
<text transform="translate(192.83 311.10) scale(1.0000 1.0767)" font-size="12.2" font-weight="bold">100</text>
<line x1="249.6" y1="482.0" x2="249.6" y2="485.3" stroke="#111" stroke-width="1.2"/>
<line x1="301.0" y1="482.0" x2="301.0" y2="485.3" stroke="#111" stroke-width="1.2"/>
<text transform="translate(232.10 502.80) scale(1.0005 1.0659)" font-size="15.0" font-weight="bold">HIF-R</text>
<text transform="translate(282.19 502.80) scale(1.0060 1.0659)" font-size="15.0" font-weight="bold">HIF-S</text>
<text transform="translate(251.37 315.30) scale(1.0304 1.0349)" font-size="12.5" font-weight="bold"><tspan font-style="italic">P</tspan> = 0.62</text>
<path d="M248.85 339.00a1.85 1.85 0 1 0 3.70 0a1.85 1.85 0 1 0 -3.70 0zM245.35 370.00a1.85 1.85 0 1 0 3.70 0a1.85 1.85 0 1 0 -3.70 0zM258.05 373.50a1.85 1.85 0 1 0 3.70 0a1.85 1.85 0 1 0 -3.70 0zM266.35 370.00a1.85 1.85 0 1 0 3.70 0a1.85 1.85 0 1 0 -3.70 0zM267.15 371.60a1.85 1.85 0 1 0 3.70 0a1.85 1.85 0 1 0 -3.70 0zM265.75 377.00a1.85 1.85 0 1 0 3.70 0a1.85 1.85 0 1 0 -3.70 0zM251.25 377.00a1.85 1.85 0 1 0 3.70 0a1.85 1.85 0 1 0 -3.70 0zM248.85 380.90a1.85 1.85 0 1 0 3.70 0a1.85 1.85 0 1 0 -3.70 0zM229.45 377.00a1.85 1.85 0 1 0 3.70 0a1.85 1.85 0 1 0 -3.70 0zM231.85 376.50a1.85 1.85 0 1 0 3.70 0a1.85 1.85 0 1 0 -3.70 0zM237.25 378.40a1.85 1.85 0 1 0 3.70 0a1.85 1.85 0 1 0 -3.70 0zM233.75 381.70a1.85 1.85 0 1 0 3.70 0a1.85 1.85 0 1 0 -3.70 0zM230.25 386.70a1.85 1.85 0 1 0 3.70 0a1.85 1.85 0 1 0 -3.70 0zM262.85 386.70a1.85 1.85 0 1 0 3.70 0a1.85 1.85 0 1 0 -3.70 0zM243.85 392.60a1.85 1.85 0 1 0 3.70 0a1.85 1.85 0 1 0 -3.70 0zM247.75 391.40a1.85 1.85 0 1 0 3.70 0a1.85 1.85 0 1 0 -3.70 0zM229.45 399.80a1.85 1.85 0 1 0 3.70 0a1.85 1.85 0 1 0 -3.70 0zM234.15 400.30a1.85 1.85 0 1 0 3.70 0a1.85 1.85 0 1 0 -3.70 0zM243.05 399.80a1.85 1.85 0 1 0 3.70 0a1.85 1.85 0 1 0 -3.70 0zM245.05 398.40a1.85 1.85 0 1 0 3.70 0a1.85 1.85 0 1 0 -3.70 0zM258.95 399.20a1.85 1.85 0 1 0 3.70 0a1.85 1.85 0 1 0 -3.70 0zM262.85 397.20a1.85 1.85 0 1 0 3.70 0a1.85 1.85 0 1 0 -3.70 0zM268.35 403.10a1.85 1.85 0 1 0 3.70 0a1.85 1.85 0 1 0 -3.70 0zM239.15 406.90a1.85 1.85 0 1 0 3.70 0a1.85 1.85 0 1 0 -3.70 0zM241.85 406.90a1.85 1.85 0 1 0 3.70 0a1.85 1.85 0 1 0 -3.70 0zM232.15 410.40a1.85 1.85 0 1 0 3.70 0a1.85 1.85 0 1 0 -3.70 0zM240.55 410.80a1.85 1.85 0 1 0 3.70 0a1.85 1.85 0 1 0 -3.70 0zM257.45 406.60a1.85 1.85 0 1 0 3.70 0a1.85 1.85 0 1 0 -3.70 0zM260.95 405.60a1.85 1.85 0 1 0 3.70 0a1.85 1.85 0 1 0 -3.70 0zM256.65 411.40a1.85 1.85 0 1 0 3.70 0a1.85 1.85 0 1 0 -3.70 0zM264.45 410.00a1.85 1.85 0 1 0 3.70 0a1.85 1.85 0 1 0 -3.70 0zM268.35 408.90a1.85 1.85 0 1 0 3.70 0a1.85 1.85 0 1 0 -3.70 0zM236.65 415.90a1.85 1.85 0 1 0 3.70 0a1.85 1.85 0 1 0 -3.70 0zM239.95 419.80a1.85 1.85 0 1 0 3.70 0a1.85 1.85 0 1 0 -3.70 0zM233.35 421.10a1.85 1.85 0 1 0 3.70 0a1.85 1.85 0 1 0 -3.70 0zM258.95 417.80a1.85 1.85 0 1 0 3.70 0a1.85 1.85 0 1 0 -3.70 0zM264.45 420.50a1.85 1.85 0 1 0 3.70 0a1.85 1.85 0 1 0 -3.70 0zM250.25 427.30a1.85 1.85 0 1 0 3.70 0a1.85 1.85 0 1 0 -3.70 0zM232.15 430.60a1.85 1.85 0 1 0 3.70 0a1.85 1.85 0 1 0 -3.70 0zM228.85 437.00a1.85 1.85 0 1 0 3.70 0a1.85 1.85 0 1 0 -3.70 0zM245.35 433.90a1.85 1.85 0 1 0 3.70 0a1.85 1.85 0 1 0 -3.70 0zM254.75 434.50a1.85 1.85 0 1 0 3.70 0a1.85 1.85 0 1 0 -3.70 0zM260.95 433.90a1.85 1.85 0 1 0 3.70 0a1.85 1.85 0 1 0 -3.70 0zM251.65 439.00a1.85 1.85 0 1 0 3.70 0a1.85 1.85 0 1 0 -3.70 0zM256.05 437.80a1.85 1.85 0 1 0 3.70 0a1.85 1.85 0 1 0 -3.70 0zM249.25 454.50a1.85 1.85 0 1 0 3.70 0a1.85 1.85 0 1 0 -3.70 0z" fill="none" stroke="#000" stroke-width="1.10"/>
<path d="M300.85 341.50a1.85 1.85 0 1 0 3.70 0a1.85 1.85 0 1 0 -3.70 0zM280.35 347.90a1.85 1.85 0 1 0 3.70 0a1.85 1.85 0 1 0 -3.70 0zM306.75 347.90a1.85 1.85 0 1 0 3.70 0a1.85 1.85 0 1 0 -3.70 0zM297.05 357.60a1.85 1.85 0 1 0 3.70 0a1.85 1.85 0 1 0 -3.70 0zM306.75 356.50a1.85 1.85 0 1 0 3.70 0a1.85 1.85 0 1 0 -3.70 0zM311.95 356.50a1.85 1.85 0 1 0 3.70 0a1.85 1.85 0 1 0 -3.70 0zM315.25 356.50a1.85 1.85 0 1 0 3.70 0a1.85 1.85 0 1 0 -3.70 0zM316.85 362.30a1.85 1.85 0 1 0 3.70 0a1.85 1.85 0 1 0 -3.70 0zM280.35 366.70a1.85 1.85 0 1 0 3.70 0a1.85 1.85 0 1 0 -3.70 0zM285.35 364.20a1.85 1.85 0 1 0 3.70 0a1.85 1.85 0 1 0 -3.70 0zM285.35 372.60a1.85 1.85 0 1 0 3.70 0a1.85 1.85 0 1 0 -3.70 0zM310.05 370.00a1.85 1.85 0 1 0 3.70 0a1.85 1.85 0 1 0 -3.70 0zM297.05 377.00a1.85 1.85 0 1 0 3.70 0a1.85 1.85 0 1 0 -3.70 0zM318.75 377.40a1.85 1.85 0 1 0 3.70 0a1.85 1.85 0 1 0 -3.70 0zM288.65 380.90a1.85 1.85 0 1 0 3.70 0a1.85 1.85 0 1 0 -3.70 0zM304.75 384.20a1.85 1.85 0 1 0 3.70 0a1.85 1.85 0 1 0 -3.70 0zM280.85 388.70a1.85 1.85 0 1 0 3.70 0a1.85 1.85 0 1 0 -3.70 0zM283.85 388.10a1.85 1.85 0 1 0 3.70 0a1.85 1.85 0 1 0 -3.70 0zM291.15 387.50a1.85 1.85 0 1 0 3.70 0a1.85 1.85 0 1 0 -3.70 0zM297.05 386.70a1.85 1.85 0 1 0 3.70 0a1.85 1.85 0 1 0 -3.70 0zM304.75 390.00a1.85 1.85 0 1 0 3.70 0a1.85 1.85 0 1 0 -3.70 0zM305.55 393.00a1.85 1.85 0 1 0 3.70 0a1.85 1.85 0 1 0 -3.70 0zM306.75 393.90a1.85 1.85 0 1 0 3.70 0a1.85 1.85 0 1 0 -3.70 0zM307.15 394.30a1.85 1.85 0 1 0 3.70 0a1.85 1.85 0 1 0 -3.70 0zM286.15 393.30a1.85 1.85 0 1 0 3.70 0a1.85 1.85 0 1 0 -3.70 0zM308.65 400.70a1.85 1.85 0 1 0 3.70 0a1.85 1.85 0 1 0 -3.70 0zM311.95 399.20a1.85 1.85 0 1 0 3.70 0a1.85 1.85 0 1 0 -3.70 0zM284.15 403.60a1.85 1.85 0 1 0 3.70 0a1.85 1.85 0 1 0 -3.70 0zM288.65 403.60a1.85 1.85 0 1 0 3.70 0a1.85 1.85 0 1 0 -3.70 0zM291.15 408.90a1.85 1.85 0 1 0 3.70 0a1.85 1.85 0 1 0 -3.70 0zM291.55 408.50a1.85 1.85 0 1 0 3.70 0a1.85 1.85 0 1 0 -3.70 0zM306.75 406.20a1.85 1.85 0 1 0 3.70 0a1.85 1.85 0 1 0 -3.70 0zM308.05 408.90a1.85 1.85 0 1 0 3.70 0a1.85 1.85 0 1 0 -3.70 0zM315.25 405.60a1.85 1.85 0 1 0 3.70 0a1.85 1.85 0 1 0 -3.70 0zM318.35 405.00a1.85 1.85 0 1 0 3.70 0a1.85 1.85 0 1 0 -3.70 0zM318.75 407.50a1.85 1.85 0 1 0 3.70 0a1.85 1.85 0 1 0 -3.70 0zM286.15 413.30a1.85 1.85 0 1 0 3.70 0a1.85 1.85 0 1 0 -3.70 0zM306.75 416.30a1.85 1.85 0 1 0 3.70 0a1.85 1.85 0 1 0 -3.70 0zM309.45 415.30a1.85 1.85 0 1 0 3.70 0a1.85 1.85 0 1 0 -3.70 0zM288.65 420.50a1.85 1.85 0 1 0 3.70 0a1.85 1.85 0 1 0 -3.70 0zM296.45 427.30a1.85 1.85 0 1 0 3.70 0a1.85 1.85 0 1 0 -3.70 0zM297.05 430.00a1.85 1.85 0 1 0 3.70 0a1.85 1.85 0 1 0 -3.70 0zM299.35 430.60a1.85 1.85 0 1 0 3.70 0a1.85 1.85 0 1 0 -3.70 0zM285.35 435.10a1.85 1.85 0 1 0 3.70 0a1.85 1.85 0 1 0 -3.70 0zM281.45 437.00a1.85 1.85 0 1 0 3.70 0a1.85 1.85 0 1 0 -3.70 0zM279.55 437.80a1.85 1.85 0 1 0 3.70 0a1.85 1.85 0 1 0 -3.70 0zM283.45 439.80a1.85 1.85 0 1 0 3.70 0a1.85 1.85 0 1 0 -3.70 0zM289.25 441.70a1.85 1.85 0 1 0 3.70 0a1.85 1.85 0 1 0 -3.70 0zM304.15 439.00a1.85 1.85 0 1 0 3.70 0a1.85 1.85 0 1 0 -3.70 0zM306.75 444.80a1.85 1.85 0 1 0 3.70 0a1.85 1.85 0 1 0 -3.70 0zM312.55 448.70a1.85 1.85 0 1 0 3.70 0a1.85 1.85 0 1 0 -3.70 0zM290.55 449.50a1.85 1.85 0 1 0 3.70 0a1.85 1.85 0 1 0 -3.70 0zM293.85 467.50a1.85 1.85 0 1 0 3.70 0a1.85 1.85 0 1 0 -3.70 0z" fill="none" stroke="#000" stroke-width="1.10"/>
<rect x="231.30" y="385.60" width="38.30" height="32.30" fill="none" stroke="#d09ed6" stroke-width="1.20"/>
<line x1="231.30" y1="402.40" x2="269.60" y2="402.40" stroke="#d09ed6" stroke-width="1.20"/>
<rect x="281.40" y="378.40" width="38.20" height="42.30" fill="none" stroke="#74d0b0" stroke-width="1.20"/>
<line x1="281.40" y1="402.80" x2="319.60" y2="402.80" stroke="#74d0b0" stroke-width="1.20"/>
<path d="M249.80 454.20V339.00M237.10 454.20H262.80M237.10 339.00H262.80" stroke="#1a1a1a" stroke-width="1.40" fill="none"/>
<path d="M300.80 467.50V342.10M288.00 467.50H313.80M288.00 342.10H313.80" stroke="#1a1a1a" stroke-width="1.40" fill="none"/>
<path d="M219.50 297.10V482.60" stroke="#505050" stroke-width="1.0" fill="none"/>
<path d="M219.00 297.60H331.20" stroke="#222" stroke-width="1.1" fill="none"/>
<path d="M330.60 297.10V482.60" stroke="#333" stroke-width="1.3" fill="none"/>
<path d="M219.00 482.00H331.20" stroke="#1a1a1a" stroke-width="1.2" fill="none"/>
<text transform="translate(347.56 29.05) scale(0.9071 0.9690)" font-size="24.0" font-weight="normal" stroke="#000" stroke-width="0.70" stroke-linejoin="round">E</text>
<text transform="translate(355.30 200.86) rotate(-90) scale(1.0313 1.0368)" font-size="15.0" font-weight="bold">Yield per plant (g)</text>
<line x1="382.1" y1="193.05" x2="386.4" y2="193.05" stroke="#111" stroke-width="1.2"/>
<text transform="translate(366.38 199.15) scale(1.0000 1.0767)" font-size="12.2" font-weight="bold">10</text>
<line x1="382.1" y1="154.73" x2="386.4" y2="154.73" stroke="#111" stroke-width="1.2"/>
<text transform="translate(366.22 160.83) scale(1.0000 1.0767)" font-size="12.2" font-weight="bold">15</text>
<line x1="382.1" y1="116.40" x2="386.4" y2="116.40" stroke="#111" stroke-width="1.2"/>
<text transform="translate(366.38 122.50) scale(1.0000 1.0767)" font-size="12.2" font-weight="bold">20</text>
<line x1="382.1" y1="78.08" x2="386.4" y2="78.08" stroke="#111" stroke-width="1.2"/>
<text transform="translate(366.22 84.17) scale(1.0000 1.0767)" font-size="12.2" font-weight="bold">25</text>
<line x1="382.1" y1="39.75" x2="386.4" y2="39.75" stroke="#111" stroke-width="1.2"/>
<text transform="translate(366.38 45.85) scale(1.0000 1.0767)" font-size="12.2" font-weight="bold">30</text>
<line x1="417.6" y1="216.4" x2="417.6" y2="219.7" stroke="#111" stroke-width="1.2"/>
<line x1="472.0" y1="216.4" x2="472.0" y2="219.7" stroke="#111" stroke-width="1.2"/>
<text transform="translate(400.98 252.00) scale(1.0186 1.0659)" font-size="15.0" font-weight="bold">HIF-R</text>
<text transform="translate(450.97 252.00) scale(1.0220 1.0659)" font-size="15.0" font-weight="bold">HIF-S</text>
<text transform="translate(422.57 49.30) scale(1.0412 1.0349)" font-size="12.5" font-weight="bold"><tspan font-style="italic">P</tspan> = 0.77</text>
<path d="M435.15 69.60a1.85 1.85 0 1 0 3.70 0a1.85 1.85 0 1 0 -3.70 0zM416.85 75.40a1.85 1.85 0 1 0 3.70 0a1.85 1.85 0 1 0 -3.70 0zM396.35 81.20a1.85 1.85 0 1 0 3.70 0a1.85 1.85 0 1 0 -3.70 0zM409.15 84.10a1.85 1.85 0 1 0 3.70 0a1.85 1.85 0 1 0 -3.70 0zM413.35 86.10a1.85 1.85 0 1 0 3.70 0a1.85 1.85 0 1 0 -3.70 0zM399.45 89.00a1.85 1.85 0 1 0 3.70 0a1.85 1.85 0 1 0 -3.70 0zM426.55 89.40a1.85 1.85 0 1 0 3.70 0a1.85 1.85 0 1 0 -3.70 0zM417.65 95.20a1.85 1.85 0 1 0 3.70 0a1.85 1.85 0 1 0 -3.70 0zM427.35 102.60a1.85 1.85 0 1 0 3.70 0a1.85 1.85 0 1 0 -3.70 0zM433.15 104.50a1.85 1.85 0 1 0 3.70 0a1.85 1.85 0 1 0 -3.70 0zM430.45 107.80a1.85 1.85 0 1 0 3.70 0a1.85 1.85 0 1 0 -3.70 0zM407.95 107.80a1.85 1.85 0 1 0 3.70 0a1.85 1.85 0 1 0 -3.70 0zM404.65 110.30a1.85 1.85 0 1 0 3.70 0a1.85 1.85 0 1 0 -3.70 0zM397.45 111.70a1.85 1.85 0 1 0 3.70 0a1.85 1.85 0 1 0 -3.70 0zM401.35 119.10a1.85 1.85 0 1 0 3.70 0a1.85 1.85 0 1 0 -3.70 0zM411.85 116.70a1.85 1.85 0 1 0 3.70 0a1.85 1.85 0 1 0 -3.70 0zM416.85 118.10a1.85 1.85 0 1 0 3.70 0a1.85 1.85 0 1 0 -3.70 0zM422.75 120.00a1.85 1.85 0 1 0 3.70 0a1.85 1.85 0 1 0 -3.70 0zM437.05 130.70a1.85 1.85 0 1 0 3.70 0a1.85 1.85 0 1 0 -3.70 0zM404.65 133.60a1.85 1.85 0 1 0 3.70 0a1.85 1.85 0 1 0 -3.70 0zM399.85 138.50a1.85 1.85 0 1 0 3.70 0a1.85 1.85 0 1 0 -3.70 0zM407.15 138.90a1.85 1.85 0 1 0 3.70 0a1.85 1.85 0 1 0 -3.70 0zM413.05 137.50a1.85 1.85 0 1 0 3.70 0a1.85 1.85 0 1 0 -3.70 0zM413.35 140.80a1.85 1.85 0 1 0 3.70 0a1.85 1.85 0 1 0 -3.70 0zM406.55 144.70a1.85 1.85 0 1 0 3.70 0a1.85 1.85 0 1 0 -3.70 0zM437.65 141.40a1.85 1.85 0 1 0 3.70 0a1.85 1.85 0 1 0 -3.70 0zM435.15 145.30a1.85 1.85 0 1 0 3.70 0a1.85 1.85 0 1 0 -3.70 0zM419.65 148.20a1.85 1.85 0 1 0 3.70 0a1.85 1.85 0 1 0 -3.70 0zM426.95 151.10a1.85 1.85 0 1 0 3.70 0a1.85 1.85 0 1 0 -3.70 0zM418.25 153.10a1.85 1.85 0 1 0 3.70 0a1.85 1.85 0 1 0 -3.70 0zM430.45 154.40a1.85 1.85 0 1 0 3.70 0a1.85 1.85 0 1 0 -3.70 0zM395.95 156.80a1.85 1.85 0 1 0 3.70 0a1.85 1.85 0 1 0 -3.70 0zM400.15 157.80a1.85 1.85 0 1 0 3.70 0a1.85 1.85 0 1 0 -3.70 0zM401.35 158.80a1.85 1.85 0 1 0 3.70 0a1.85 1.85 0 1 0 -3.70 0zM437.65 158.20a1.85 1.85 0 1 0 3.70 0a1.85 1.85 0 1 0 -3.70 0zM424.65 161.70a1.85 1.85 0 1 0 3.70 0a1.85 1.85 0 1 0 -3.70 0zM427.95 166.20a1.85 1.85 0 1 0 3.70 0a1.85 1.85 0 1 0 -3.70 0zM429.85 164.20a1.85 1.85 0 1 0 3.70 0a1.85 1.85 0 1 0 -3.70 0zM432.85 165.00a1.85 1.85 0 1 0 3.70 0a1.85 1.85 0 1 0 -3.70 0zM432.85 170.40a1.85 1.85 0 1 0 3.70 0a1.85 1.85 0 1 0 -3.70 0zM433.35 169.80a1.85 1.85 0 1 0 3.70 0a1.85 1.85 0 1 0 -3.70 0zM419.65 167.50a1.85 1.85 0 1 0 3.70 0a1.85 1.85 0 1 0 -3.70 0zM399.45 168.90a1.85 1.85 0 1 0 3.70 0a1.85 1.85 0 1 0 -3.70 0zM395.55 180.50a1.85 1.85 0 1 0 3.70 0a1.85 1.85 0 1 0 -3.70 0zM414.95 181.10a1.85 1.85 0 1 0 3.70 0a1.85 1.85 0 1 0 -3.70 0zM411.05 190.80a1.85 1.85 0 1 0 3.70 0a1.85 1.85 0 1 0 -3.70 0zM431.25 203.40a1.85 1.85 0 1 0 3.70 0a1.85 1.85 0 1 0 -3.70 0z" fill="none" stroke="#000" stroke-width="1.10"/>
<path d="M481.55 64.70a1.85 1.85 0 1 0 3.70 0a1.85 1.85 0 1 0 -3.70 0zM476.75 70.90a1.85 1.85 0 1 0 3.70 0a1.85 1.85 0 1 0 -3.70 0zM462.15 80.20a1.85 1.85 0 1 0 3.70 0a1.85 1.85 0 1 0 -3.70 0zM459.65 88.40a1.85 1.85 0 1 0 3.70 0a1.85 1.85 0 1 0 -3.70 0zM449.55 90.00a1.85 1.85 0 1 0 3.70 0a1.85 1.85 0 1 0 -3.70 0zM455.35 92.90a1.85 1.85 0 1 0 3.70 0a1.85 1.85 0 1 0 -3.70 0zM456.75 95.40a1.85 1.85 0 1 0 3.70 0a1.85 1.85 0 1 0 -3.70 0zM467.35 96.20a1.85 1.85 0 1 0 3.70 0a1.85 1.85 0 1 0 -3.70 0zM461.15 102.60a1.85 1.85 0 1 0 3.70 0a1.85 1.85 0 1 0 -3.70 0zM474.75 101.00a1.85 1.85 0 1 0 3.70 0a1.85 1.85 0 1 0 -3.70 0zM467.75 105.90a1.85 1.85 0 1 0 3.70 0a1.85 1.85 0 1 0 -3.70 0zM490.35 106.50a1.85 1.85 0 1 0 3.70 0a1.85 1.85 0 1 0 -3.70 0zM476.75 110.70a1.85 1.85 0 1 0 3.70 0a1.85 1.85 0 1 0 -3.70 0zM478.65 113.80a1.85 1.85 0 1 0 3.70 0a1.85 1.85 0 1 0 -3.70 0zM456.75 115.20a1.85 1.85 0 1 0 3.70 0a1.85 1.85 0 1 0 -3.70 0zM467.75 117.50a1.85 1.85 0 1 0 3.70 0a1.85 1.85 0 1 0 -3.70 0zM477.65 117.50a1.85 1.85 0 1 0 3.70 0a1.85 1.85 0 1 0 -3.70 0zM450.85 121.00a1.85 1.85 0 1 0 3.70 0a1.85 1.85 0 1 0 -3.70 0zM458.65 122.40a1.85 1.85 0 1 0 3.70 0a1.85 1.85 0 1 0 -3.70 0zM478.65 121.40a1.85 1.85 0 1 0 3.70 0a1.85 1.85 0 1 0 -3.70 0zM487.15 122.00a1.85 1.85 0 1 0 3.70 0a1.85 1.85 0 1 0 -3.70 0zM490.65 121.00a1.85 1.85 0 1 0 3.70 0a1.85 1.85 0 1 0 -3.70 0zM487.75 124.30a1.85 1.85 0 1 0 3.70 0a1.85 1.85 0 1 0 -3.70 0zM461.15 127.20a1.85 1.85 0 1 0 3.70 0a1.85 1.85 0 1 0 -3.70 0zM467.05 125.90a1.85 1.85 0 1 0 3.70 0a1.85 1.85 0 1 0 -3.70 0zM456.15 131.70a1.85 1.85 0 1 0 3.70 0a1.85 1.85 0 1 0 -3.70 0zM451.85 133.60a1.85 1.85 0 1 0 3.70 0a1.85 1.85 0 1 0 -3.70 0zM458.65 134.20a1.85 1.85 0 1 0 3.70 0a1.85 1.85 0 1 0 -3.70 0zM461.15 132.30a1.85 1.85 0 1 0 3.70 0a1.85 1.85 0 1 0 -3.70 0zM478.65 132.70a1.85 1.85 0 1 0 3.70 0a1.85 1.85 0 1 0 -3.70 0zM482.55 131.70a1.85 1.85 0 1 0 3.70 0a1.85 1.85 0 1 0 -3.70 0zM477.15 138.50a1.85 1.85 0 1 0 3.70 0a1.85 1.85 0 1 0 -3.70 0zM477.65 138.90a1.85 1.85 0 1 0 3.70 0a1.85 1.85 0 1 0 -3.70 0zM454.15 149.60a1.85 1.85 0 1 0 3.70 0a1.85 1.85 0 1 0 -3.70 0zM454.65 149.30a1.85 1.85 0 1 0 3.70 0a1.85 1.85 0 1 0 -3.70 0zM465.05 152.10a1.85 1.85 0 1 0 3.70 0a1.85 1.85 0 1 0 -3.70 0zM472.85 155.00a1.85 1.85 0 1 0 3.70 0a1.85 1.85 0 1 0 -3.70 0zM484.45 154.00a1.85 1.85 0 1 0 3.70 0a1.85 1.85 0 1 0 -3.70 0zM480.95 157.80a1.85 1.85 0 1 0 3.70 0a1.85 1.85 0 1 0 -3.70 0zM476.15 160.30a1.85 1.85 0 1 0 3.70 0a1.85 1.85 0 1 0 -3.70 0zM467.95 163.00a1.85 1.85 0 1 0 3.70 0a1.85 1.85 0 1 0 -3.70 0zM449.95 165.60a1.85 1.85 0 1 0 3.70 0a1.85 1.85 0 1 0 -3.70 0zM453.85 165.60a1.85 1.85 0 1 0 3.70 0a1.85 1.85 0 1 0 -3.70 0zM450.85 170.80a1.85 1.85 0 1 0 3.70 0a1.85 1.85 0 1 0 -3.70 0zM479.65 167.50a1.85 1.85 0 1 0 3.70 0a1.85 1.85 0 1 0 -3.70 0zM490.35 168.90a1.85 1.85 0 1 0 3.70 0a1.85 1.85 0 1 0 -3.70 0zM480.55 176.30a1.85 1.85 0 1 0 3.70 0a1.85 1.85 0 1 0 -3.70 0zM488.35 181.10a1.85 1.85 0 1 0 3.70 0a1.85 1.85 0 1 0 -3.70 0zM455.35 184.40a1.85 1.85 0 1 0 3.70 0a1.85 1.85 0 1 0 -3.70 0zM458.65 184.00a1.85 1.85 0 1 0 3.70 0a1.85 1.85 0 1 0 -3.70 0zM480.55 192.20a1.85 1.85 0 1 0 3.70 0a1.85 1.85 0 1 0 -3.70 0zM483.55 190.20a1.85 1.85 0 1 0 3.70 0a1.85 1.85 0 1 0 -3.70 0zM470.35 202.50a1.85 1.85 0 1 0 3.70 0a1.85 1.85 0 1 0 -3.70 0z" fill="none" stroke="#000" stroke-width="1.10"/>
<rect x="398.20" y="110.70" width="40.00" height="52.00" fill="none" stroke="#d09ed6" stroke-width="1.20"/>
<line x1="398.20" y1="140.30" x2="438.20" y2="140.30" stroke="#d09ed6" stroke-width="1.20"/>
<rect x="451.80" y="114.60" width="40.40" height="44.80" fill="none" stroke="#74d0b0" stroke-width="1.20"/>
<line x1="451.80" y1="131.80" x2="492.20" y2="131.80" stroke="#74d0b0" stroke-width="1.20"/>
<path d="M417.60 203.40V70.00M404.00 203.40H431.60M404.00 70.00H431.60" stroke="#1a1a1a" stroke-width="1.40" fill="none"/>
<path d="M471.80 202.50V65.10M458.60 202.50H485.00M458.60 65.10H485.00" stroke="#1a1a1a" stroke-width="1.40" fill="none"/>
<path d="M386.50 31.80V217.00" stroke="#505050" stroke-width="1.0" fill="none"/>
<path d="M386.00 32.30H504.40" stroke="#222" stroke-width="1.1" fill="none"/>
<path d="M503.80 31.80V217.00" stroke="#333" stroke-width="1.3" fill="none"/>
<path d="M386.00 216.40H504.40" stroke="#1a1a1a" stroke-width="1.2" fill="none"/>
<text transform="translate(347.55 287.60) scale(0.8866 0.9690)" font-size="24.0" font-weight="normal" stroke="#000" stroke-width="0.60" stroke-linejoin="round">F</text>
<text transform="translate(359.90 507.17) rotate(-90) scale(1.0276 1.0368)" font-size="15.0" font-weight="bold">Thousand grains weight (g)</text>
<line x1="381.8" y1="459.40" x2="386.1" y2="459.40" stroke="#111" stroke-width="1.2"/>
<text transform="translate(366.08 465.50) scale(1.0000 1.0767)" font-size="12.2" font-weight="bold">20</text>
<line x1="381.8" y1="403.50" x2="386.1" y2="403.50" stroke="#111" stroke-width="1.2"/>
<text transform="translate(365.65 409.60) scale(1.0000 1.0767)" font-size="12.2" font-weight="bold">24</text>
<line x1="381.8" y1="347.60" x2="386.1" y2="347.60" stroke="#111" stroke-width="1.2"/>
<text transform="translate(365.96 353.70) scale(1.0000 1.0767)" font-size="12.2" font-weight="bold">28</text>
<line x1="417.6" y1="482.0" x2="417.6" y2="485.3" stroke="#111" stroke-width="1.2"/>
<line x1="471.6" y1="482.0" x2="471.6" y2="485.3" stroke="#111" stroke-width="1.2"/>
<text transform="translate(400.38 502.80) scale(1.0135 1.0659)" font-size="15.0" font-weight="bold">HIF-R</text>
<text transform="translate(450.59 502.80) scale(1.0060 1.0659)" font-size="15.0" font-weight="bold">HIF-S</text>
<text transform="translate(422.97 315.10) scale(1.0304 1.0349)" font-size="12.5" font-weight="bold"><tspan font-style="italic">P</tspan> = 0.25</text>
<path d="M406.05 334.60a1.85 1.85 0 1 0 3.70 0a1.85 1.85 0 1 0 -3.70 0zM407.55 333.20a1.85 1.85 0 1 0 3.70 0a1.85 1.85 0 1 0 -3.70 0zM409.15 333.20a1.85 1.85 0 1 0 3.70 0a1.85 1.85 0 1 0 -3.70 0zM399.45 341.70a1.85 1.85 0 1 0 3.70 0a1.85 1.85 0 1 0 -3.70 0zM427.35 342.90a1.85 1.85 0 1 0 3.70 0a1.85 1.85 0 1 0 -3.70 0zM413.05 346.80a1.85 1.85 0 1 0 3.70 0a1.85 1.85 0 1 0 -3.70 0zM427.35 352.60a1.85 1.85 0 1 0 3.70 0a1.85 1.85 0 1 0 -3.70 0zM407.15 368.90a1.85 1.85 0 1 0 3.70 0a1.85 1.85 0 1 0 -3.70 0zM416.85 367.60a1.85 1.85 0 1 0 3.70 0a1.85 1.85 0 1 0 -3.70 0zM419.65 372.00a1.85 1.85 0 1 0 3.70 0a1.85 1.85 0 1 0 -3.70 0zM411.05 374.00a1.85 1.85 0 1 0 3.70 0a1.85 1.85 0 1 0 -3.70 0zM428.55 372.80a1.85 1.85 0 1 0 3.70 0a1.85 1.85 0 1 0 -3.70 0zM437.05 368.90a1.85 1.85 0 1 0 3.70 0a1.85 1.85 0 1 0 -3.70 0zM401.35 376.70a1.85 1.85 0 1 0 3.70 0a1.85 1.85 0 1 0 -3.70 0zM404.05 380.60a1.85 1.85 0 1 0 3.70 0a1.85 1.85 0 1 0 -3.70 0zM424.65 377.90a1.85 1.85 0 1 0 3.70 0a1.85 1.85 0 1 0 -3.70 0zM432.45 376.70a1.85 1.85 0 1 0 3.70 0a1.85 1.85 0 1 0 -3.70 0zM430.45 380.20a1.85 1.85 0 1 0 3.70 0a1.85 1.85 0 1 0 -3.70 0zM400.15 385.60a1.85 1.85 0 1 0 3.70 0a1.85 1.85 0 1 0 -3.70 0zM426.95 383.70a1.85 1.85 0 1 0 3.70 0a1.85 1.85 0 1 0 -3.70 0zM428.95 384.50a1.85 1.85 0 1 0 3.70 0a1.85 1.85 0 1 0 -3.70 0zM429.35 384.90a1.85 1.85 0 1 0 3.70 0a1.85 1.85 0 1 0 -3.70 0zM431.85 386.00a1.85 1.85 0 1 0 3.70 0a1.85 1.85 0 1 0 -3.70 0zM434.75 387.60a1.85 1.85 0 1 0 3.70 0a1.85 1.85 0 1 0 -3.70 0zM437.65 389.50a1.85 1.85 0 1 0 3.70 0a1.85 1.85 0 1 0 -3.70 0zM434.75 391.80a1.85 1.85 0 1 0 3.70 0a1.85 1.85 0 1 0 -3.70 0zM399.45 392.20a1.85 1.85 0 1 0 3.70 0a1.85 1.85 0 1 0 -3.70 0zM395.95 393.80a1.85 1.85 0 1 0 3.70 0a1.85 1.85 0 1 0 -3.70 0zM395.55 397.30a1.85 1.85 0 1 0 3.70 0a1.85 1.85 0 1 0 -3.70 0zM404.05 399.20a1.85 1.85 0 1 0 3.70 0a1.85 1.85 0 1 0 -3.70 0zM413.05 399.60a1.85 1.85 0 1 0 3.70 0a1.85 1.85 0 1 0 -3.70 0zM411.85 401.60a1.85 1.85 0 1 0 3.70 0a1.85 1.85 0 1 0 -3.70 0zM412.35 401.90a1.85 1.85 0 1 0 3.70 0a1.85 1.85 0 1 0 -3.70 0zM413.05 402.50a1.85 1.85 0 1 0 3.70 0a1.85 1.85 0 1 0 -3.70 0zM422.75 400.00a1.85 1.85 0 1 0 3.70 0a1.85 1.85 0 1 0 -3.70 0zM433.15 399.20a1.85 1.85 0 1 0 3.70 0a1.85 1.85 0 1 0 -3.70 0zM432.45 403.90a1.85 1.85 0 1 0 3.70 0a1.85 1.85 0 1 0 -3.70 0zM401.35 410.90a1.85 1.85 0 1 0 3.70 0a1.85 1.85 0 1 0 -3.70 0zM399.45 414.80a1.85 1.85 0 1 0 3.70 0a1.85 1.85 0 1 0 -3.70 0zM397.45 417.50a1.85 1.85 0 1 0 3.70 0a1.85 1.85 0 1 0 -3.70 0zM408.55 414.20a1.85 1.85 0 1 0 3.70 0a1.85 1.85 0 1 0 -3.70 0zM416.85 415.10a1.85 1.85 0 1 0 3.70 0a1.85 1.85 0 1 0 -3.70 0zM418.85 418.10a1.85 1.85 0 1 0 3.70 0a1.85 1.85 0 1 0 -3.70 0zM426.55 422.30a1.85 1.85 0 1 0 3.70 0a1.85 1.85 0 1 0 -3.70 0zM419.65 426.20a1.85 1.85 0 1 0 3.70 0a1.85 1.85 0 1 0 -3.70 0zM414.95 428.10a1.85 1.85 0 1 0 3.70 0a1.85 1.85 0 1 0 -3.70 0zM431.25 432.00a1.85 1.85 0 1 0 3.70 0a1.85 1.85 0 1 0 -3.70 0zM396.35 447.50a1.85 1.85 0 1 0 3.70 0a1.85 1.85 0 1 0 -3.70 0zM417.65 472.00a1.85 1.85 0 1 0 3.70 0a1.85 1.85 0 1 0 -3.70 0z" fill="none" stroke="#000" stroke-width="1.10"/>
<path d="M449.55 339.00a1.85 1.85 0 1 0 3.70 0a1.85 1.85 0 1 0 -3.70 0zM458.65 345.60a1.85 1.85 0 1 0 3.70 0a1.85 1.85 0 1 0 -3.70 0zM467.75 345.60a1.85 1.85 0 1 0 3.70 0a1.85 1.85 0 1 0 -3.70 0zM478.05 343.70a1.85 1.85 0 1 0 3.70 0a1.85 1.85 0 1 0 -3.70 0zM480.95 347.60a1.85 1.85 0 1 0 3.70 0a1.85 1.85 0 1 0 -3.70 0zM487.75 350.70a1.85 1.85 0 1 0 3.70 0a1.85 1.85 0 1 0 -3.70 0zM477.15 355.30a1.85 1.85 0 1 0 3.70 0a1.85 1.85 0 1 0 -3.70 0zM477.45 357.30a1.85 1.85 0 1 0 3.70 0a1.85 1.85 0 1 0 -3.70 0zM450.85 363.10a1.85 1.85 0 1 0 3.70 0a1.85 1.85 0 1 0 -3.70 0zM461.15 360.40a1.85 1.85 0 1 0 3.70 0a1.85 1.85 0 1 0 -3.70 0zM467.75 361.20a1.85 1.85 0 1 0 3.70 0a1.85 1.85 0 1 0 -3.70 0zM490.35 362.30a1.85 1.85 0 1 0 3.70 0a1.85 1.85 0 1 0 -3.70 0zM490.35 363.10a1.85 1.85 0 1 0 3.70 0a1.85 1.85 0 1 0 -3.70 0zM456.75 371.50a1.85 1.85 0 1 0 3.70 0a1.85 1.85 0 1 0 -3.70 0zM458.05 372.80a1.85 1.85 0 1 0 3.70 0a1.85 1.85 0 1 0 -3.70 0zM455.35 373.40a1.85 1.85 0 1 0 3.70 0a1.85 1.85 0 1 0 -3.70 0zM476.75 373.40a1.85 1.85 0 1 0 3.70 0a1.85 1.85 0 1 0 -3.70 0zM480.55 372.80a1.85 1.85 0 1 0 3.70 0a1.85 1.85 0 1 0 -3.70 0zM479.05 370.90a1.85 1.85 0 1 0 3.70 0a1.85 1.85 0 1 0 -3.70 0zM458.65 377.90a1.85 1.85 0 1 0 3.70 0a1.85 1.85 0 1 0 -3.70 0zM456.15 379.80a1.85 1.85 0 1 0 3.70 0a1.85 1.85 0 1 0 -3.70 0zM449.55 380.60a1.85 1.85 0 1 0 3.70 0a1.85 1.85 0 1 0 -3.70 0zM450.85 382.50a1.85 1.85 0 1 0 3.70 0a1.85 1.85 0 1 0 -3.70 0zM480.55 380.60a1.85 1.85 0 1 0 3.70 0a1.85 1.85 0 1 0 -3.70 0zM484.45 382.50a1.85 1.85 0 1 0 3.70 0a1.85 1.85 0 1 0 -3.70 0zM491.05 378.60a1.85 1.85 0 1 0 3.70 0a1.85 1.85 0 1 0 -3.70 0zM454.15 387.00a1.85 1.85 0 1 0 3.70 0a1.85 1.85 0 1 0 -3.70 0zM457.25 388.30a1.85 1.85 0 1 0 3.70 0a1.85 1.85 0 1 0 -3.70 0zM461.55 388.90a1.85 1.85 0 1 0 3.70 0a1.85 1.85 0 1 0 -3.70 0zM465.05 386.00a1.85 1.85 0 1 0 3.70 0a1.85 1.85 0 1 0 -3.70 0zM470.85 385.60a1.85 1.85 0 1 0 3.70 0a1.85 1.85 0 1 0 -3.70 0zM476.75 388.00a1.85 1.85 0 1 0 3.70 0a1.85 1.85 0 1 0 -3.70 0zM456.15 390.30a1.85 1.85 0 1 0 3.70 0a1.85 1.85 0 1 0 -3.70 0zM460.05 389.50a1.85 1.85 0 1 0 3.70 0a1.85 1.85 0 1 0 -3.70 0zM471.65 391.80a1.85 1.85 0 1 0 3.70 0a1.85 1.85 0 1 0 -3.70 0zM474.75 392.20a1.85 1.85 0 1 0 3.70 0a1.85 1.85 0 1 0 -3.70 0zM480.95 392.80a1.85 1.85 0 1 0 3.70 0a1.85 1.85 0 1 0 -3.70 0zM483.35 392.20a1.85 1.85 0 1 0 3.70 0a1.85 1.85 0 1 0 -3.70 0zM486.45 392.80a1.85 1.85 0 1 0 3.70 0a1.85 1.85 0 1 0 -3.70 0zM487.15 396.10a1.85 1.85 0 1 0 3.70 0a1.85 1.85 0 1 0 -3.70 0zM467.05 394.80a1.85 1.85 0 1 0 3.70 0a1.85 1.85 0 1 0 -3.70 0zM467.75 399.20a1.85 1.85 0 1 0 3.70 0a1.85 1.85 0 1 0 -3.70 0zM467.05 400.60a1.85 1.85 0 1 0 3.70 0a1.85 1.85 0 1 0 -3.70 0zM462.55 403.90a1.85 1.85 0 1 0 3.70 0a1.85 1.85 0 1 0 -3.70 0zM461.15 408.90a1.85 1.85 0 1 0 3.70 0a1.85 1.85 0 1 0 -3.70 0zM456.15 409.70a1.85 1.85 0 1 0 3.70 0a1.85 1.85 0 1 0 -3.70 0zM467.75 414.80a1.85 1.85 0 1 0 3.70 0a1.85 1.85 0 1 0 -3.70 0zM476.75 414.80a1.85 1.85 0 1 0 3.70 0a1.85 1.85 0 1 0 -3.70 0zM478.65 412.80a1.85 1.85 0 1 0 3.70 0a1.85 1.85 0 1 0 -3.70 0zM482.55 411.70a1.85 1.85 0 1 0 3.70 0a1.85 1.85 0 1 0 -3.70 0zM476.15 421.50a1.85 1.85 0 1 0 3.70 0a1.85 1.85 0 1 0 -3.70 0zM451.45 430.60a1.85 1.85 0 1 0 3.70 0a1.85 1.85 0 1 0 -3.70 0zM478.65 436.50a1.85 1.85 0 1 0 3.70 0a1.85 1.85 0 1 0 -3.70 0zM453.45 453.90a1.85 1.85 0 1 0 3.70 0a1.85 1.85 0 1 0 -3.70 0z" fill="none" stroke="#000" stroke-width="1.10"/>
<rect x="398.20" y="374.00" width="40.00" height="31.90" fill="none" stroke="#d09ed6" stroke-width="1.20"/>
<line x1="398.20" y1="388.90" x2="438.20" y2="388.90" stroke="#d09ed6" stroke-width="1.20"/>
<rect x="451.40" y="371.50" width="40.80" height="23.50" fill="none" stroke="#74d0b0" stroke-width="1.20"/>
<line x1="451.40" y1="386.00" x2="492.20" y2="386.00" stroke="#74d0b0" stroke-width="1.20"/>
<path d="M417.60 447.70V333.00M404.60 447.70H431.40M404.60 333.00H431.40" stroke="#1a1a1a" stroke-width="1.40" fill="none"/>
<path d="M472.20 430.00V339.00M458.60 430.00H485.40M458.60 339.00H485.40" stroke="#1a1a1a" stroke-width="1.40" fill="none"/>
<path d="M386.50 297.10V482.60" stroke="#505050" stroke-width="1.0" fill="none"/>
<path d="M386.00 297.60H504.40" stroke="#222" stroke-width="1.1" fill="none"/>
<path d="M503.80 297.10V482.60" stroke="#333" stroke-width="1.3" fill="none"/>
<path d="M386.00 482.00H504.40" stroke="#1a1a1a" stroke-width="1.2" fill="none"/>
<text transform="translate(521.49 29.59) scale(1.0020 0.9122)" font-size="24.0" font-weight="normal" stroke="#000" stroke-width="0.80" stroke-linejoin="round">G</text>
<text transform="translate(534.50 237.33) rotate(-90) scale(1.0307 1.0368)" font-size="15.0" font-weight="bold">Number of effective tillers</text>
<line x1="554.0" y1="175.20" x2="558.3" y2="175.20" stroke="#111" stroke-width="1.2"/>
<text transform="translate(544.61 181.30) scale(1.0000 1.0767)" font-size="12.2" font-weight="bold">4</text>
<line x1="554.0" y1="121.10" x2="558.3" y2="121.10" stroke="#111" stroke-width="1.2"/>
<text transform="translate(544.98 127.20) scale(1.0000 1.0767)" font-size="12.2" font-weight="bold">6</text>
<line x1="554.0" y1="67.00" x2="558.3" y2="67.00" stroke="#111" stroke-width="1.2"/>
<text transform="translate(544.92 73.10) scale(1.0000 1.0767)" font-size="12.2" font-weight="bold">8</text>
<line x1="590.0" y1="216.4" x2="590.0" y2="219.7" stroke="#111" stroke-width="1.2"/>
<line x1="642.0" y1="216.4" x2="642.0" y2="219.7" stroke="#111" stroke-width="1.2"/>
<text transform="translate(567.99 252.00) scale(1.0057 1.0659)" font-size="15.0" font-weight="bold">HIF-R</text>
<text transform="translate(617.69 252.00) scale(1.0087 1.0659)" font-size="15.0" font-weight="bold">HIF-S</text>
<text transform="translate(594.78 49.40) scale(1.0153 1.0349)" font-size="12.5" font-weight="bold"><tspan font-style="italic">P</tspan> = 0.93</text>
<path d="M587.35 64.10a1.85 1.85 0 1 0 3.70 0a1.85 1.85 0 1 0 -3.70 0zM569.45 69.00a1.85 1.85 0 1 0 3.70 0a1.85 1.85 0 1 0 -3.70 0zM574.35 95.40a1.85 1.85 0 1 0 3.70 0a1.85 1.85 0 1 0 -3.70 0zM599.95 95.40a1.85 1.85 0 1 0 3.70 0a1.85 1.85 0 1 0 -3.70 0zM602.85 94.40a1.85 1.85 0 1 0 3.70 0a1.85 1.85 0 1 0 -3.70 0zM568.35 120.00a1.85 1.85 0 1 0 3.70 0a1.85 1.85 0 1 0 -3.70 0zM569.85 119.10a1.85 1.85 0 1 0 3.70 0a1.85 1.85 0 1 0 -3.70 0zM569.45 121.50a1.85 1.85 0 1 0 3.70 0a1.85 1.85 0 1 0 -3.70 0zM578.55 120.00a1.85 1.85 0 1 0 3.70 0a1.85 1.85 0 1 0 -3.70 0zM579.15 123.00a1.85 1.85 0 1 0 3.70 0a1.85 1.85 0 1 0 -3.70 0zM583.85 119.10a1.85 1.85 0 1 0 3.70 0a1.85 1.85 0 1 0 -3.70 0zM588.85 118.10a1.85 1.85 0 1 0 3.70 0a1.85 1.85 0 1 0 -3.70 0zM606.35 118.10a1.85 1.85 0 1 0 3.70 0a1.85 1.85 0 1 0 -3.70 0zM569.45 145.30a1.85 1.85 0 1 0 3.70 0a1.85 1.85 0 1 0 -3.70 0zM595.15 145.90a1.85 1.85 0 1 0 3.70 0a1.85 1.85 0 1 0 -3.70 0zM596.05 148.20a1.85 1.85 0 1 0 3.70 0a1.85 1.85 0 1 0 -3.70 0zM598.05 145.30a1.85 1.85 0 1 0 3.70 0a1.85 1.85 0 1 0 -3.70 0zM599.95 147.80a1.85 1.85 0 1 0 3.70 0a1.85 1.85 0 1 0 -3.70 0zM601.85 145.30a1.85 1.85 0 1 0 3.70 0a1.85 1.85 0 1 0 -3.70 0zM604.85 147.80a1.85 1.85 0 1 0 3.70 0a1.85 1.85 0 1 0 -3.70 0zM594.75 149.20a1.85 1.85 0 1 0 3.70 0a1.85 1.85 0 1 0 -3.70 0zM567.55 174.70a1.85 1.85 0 1 0 3.70 0a1.85 1.85 0 1 0 -3.70 0zM567.55 177.20a1.85 1.85 0 1 0 3.70 0a1.85 1.85 0 1 0 -3.70 0zM577.25 173.30a1.85 1.85 0 1 0 3.70 0a1.85 1.85 0 1 0 -3.70 0zM579.55 174.30a1.85 1.85 0 1 0 3.70 0a1.85 1.85 0 1 0 -3.70 0zM581.15 176.30a1.85 1.85 0 1 0 3.70 0a1.85 1.85 0 1 0 -3.70 0zM583.45 174.30a1.85 1.85 0 1 0 3.70 0a1.85 1.85 0 1 0 -3.70 0zM585.35 173.30a1.85 1.85 0 1 0 3.70 0a1.85 1.85 0 1 0 -3.70 0zM588.85 173.30a1.85 1.85 0 1 0 3.70 0a1.85 1.85 0 1 0 -3.70 0zM589.65 176.30a1.85 1.85 0 1 0 3.70 0a1.85 1.85 0 1 0 -3.70 0zM594.75 172.80a1.85 1.85 0 1 0 3.70 0a1.85 1.85 0 1 0 -3.70 0zM602.45 177.20a1.85 1.85 0 1 0 3.70 0a1.85 1.85 0 1 0 -3.70 0zM605.15 173.90a1.85 1.85 0 1 0 3.70 0a1.85 1.85 0 1 0 -3.70 0zM566.95 201.50a1.85 1.85 0 1 0 3.70 0a1.85 1.85 0 1 0 -3.70 0zM569.45 199.90a1.85 1.85 0 1 0 3.70 0a1.85 1.85 0 1 0 -3.70 0zM570.85 202.50a1.85 1.85 0 1 0 3.70 0a1.85 1.85 0 1 0 -3.70 0zM572.75 203.40a1.85 1.85 0 1 0 3.70 0a1.85 1.85 0 1 0 -3.70 0zM581.15 203.80a1.85 1.85 0 1 0 3.70 0a1.85 1.85 0 1 0 -3.70 0zM582.45 201.10a1.85 1.85 0 1 0 3.70 0a1.85 1.85 0 1 0 -3.70 0zM590.85 201.10a1.85 1.85 0 1 0 3.70 0a1.85 1.85 0 1 0 -3.70 0z" fill="none" stroke="#000" stroke-width="1.10"/>
<path d="M630.55 69.00a1.85 1.85 0 1 0 3.70 0a1.85 1.85 0 1 0 -3.70 0zM635.85 65.10a1.85 1.85 0 1 0 3.70 0a1.85 1.85 0 1 0 -3.70 0zM624.75 93.30a1.85 1.85 0 1 0 3.70 0a1.85 1.85 0 1 0 -3.70 0zM632.55 92.30a1.85 1.85 0 1 0 3.70 0a1.85 1.85 0 1 0 -3.70 0zM656.85 95.40a1.85 1.85 0 1 0 3.70 0a1.85 1.85 0 1 0 -3.70 0zM620.85 123.30a1.85 1.85 0 1 0 3.70 0a1.85 1.85 0 1 0 -3.70 0zM637.75 122.60a1.85 1.85 0 1 0 3.70 0a1.85 1.85 0 1 0 -3.70 0zM648.05 120.00a1.85 1.85 0 1 0 3.70 0a1.85 1.85 0 1 0 -3.70 0zM650.95 120.00a1.85 1.85 0 1 0 3.70 0a1.85 1.85 0 1 0 -3.70 0zM652.95 123.30a1.85 1.85 0 1 0 3.70 0a1.85 1.85 0 1 0 -3.70 0zM656.85 122.60a1.85 1.85 0 1 0 3.70 0a1.85 1.85 0 1 0 -3.70 0zM620.35 146.30a1.85 1.85 0 1 0 3.70 0a1.85 1.85 0 1 0 -3.70 0zM621.45 148.20a1.85 1.85 0 1 0 3.70 0a1.85 1.85 0 1 0 -3.70 0zM619.95 150.10a1.85 1.85 0 1 0 3.70 0a1.85 1.85 0 1 0 -3.70 0zM630.55 146.30a1.85 1.85 0 1 0 3.70 0a1.85 1.85 0 1 0 -3.70 0zM625.75 150.10a1.85 1.85 0 1 0 3.70 0a1.85 1.85 0 1 0 -3.70 0zM635.45 149.80a1.85 1.85 0 1 0 3.70 0a1.85 1.85 0 1 0 -3.70 0zM644.15 150.50a1.85 1.85 0 1 0 3.70 0a1.85 1.85 0 1 0 -3.70 0zM650.05 145.30a1.85 1.85 0 1 0 3.70 0a1.85 1.85 0 1 0 -3.70 0zM650.95 148.20a1.85 1.85 0 1 0 3.70 0a1.85 1.85 0 1 0 -3.70 0zM653.85 150.10a1.85 1.85 0 1 0 3.70 0a1.85 1.85 0 1 0 -3.70 0zM656.85 146.30a1.85 1.85 0 1 0 3.70 0a1.85 1.85 0 1 0 -3.70 0zM659.75 147.20a1.85 1.85 0 1 0 3.70 0a1.85 1.85 0 1 0 -3.70 0zM660.65 149.80a1.85 1.85 0 1 0 3.70 0a1.85 1.85 0 1 0 -3.70 0zM646.75 149.50a1.85 1.85 0 1 0 3.70 0a1.85 1.85 0 1 0 -3.70 0zM654.45 146.20a1.85 1.85 0 1 0 3.70 0a1.85 1.85 0 1 0 -3.70 0zM623.85 150.00a1.85 1.85 0 1 0 3.70 0a1.85 1.85 0 1 0 -3.70 0zM620.85 177.20a1.85 1.85 0 1 0 3.70 0a1.85 1.85 0 1 0 -3.70 0zM622.85 176.30a1.85 1.85 0 1 0 3.70 0a1.85 1.85 0 1 0 -3.70 0zM625.75 175.30a1.85 1.85 0 1 0 3.70 0a1.85 1.85 0 1 0 -3.70 0zM627.65 175.90a1.85 1.85 0 1 0 3.70 0a1.85 1.85 0 1 0 -3.70 0zM631.55 172.80a1.85 1.85 0 1 0 3.70 0a1.85 1.85 0 1 0 -3.70 0zM642.85 173.30a1.85 1.85 0 1 0 3.70 0a1.85 1.85 0 1 0 -3.70 0zM644.15 174.70a1.85 1.85 0 1 0 3.70 0a1.85 1.85 0 1 0 -3.70 0zM645.55 173.30a1.85 1.85 0 1 0 3.70 0a1.85 1.85 0 1 0 -3.70 0zM643.65 177.20a1.85 1.85 0 1 0 3.70 0a1.85 1.85 0 1 0 -3.70 0zM657.75 173.30a1.85 1.85 0 1 0 3.70 0a1.85 1.85 0 1 0 -3.70 0zM659.35 177.80a1.85 1.85 0 1 0 3.70 0a1.85 1.85 0 1 0 -3.70 0zM626.75 203.40a1.85 1.85 0 1 0 3.70 0a1.85 1.85 0 1 0 -3.70 0zM632.55 200.50a1.85 1.85 0 1 0 3.70 0a1.85 1.85 0 1 0 -3.70 0zM640.85 205.00a1.85 1.85 0 1 0 3.70 0a1.85 1.85 0 1 0 -3.70 0zM645.55 201.90a1.85 1.85 0 1 0 3.70 0a1.85 1.85 0 1 0 -3.70 0zM647.45 203.40a1.85 1.85 0 1 0 3.70 0a1.85 1.85 0 1 0 -3.70 0zM649.05 201.90a1.85 1.85 0 1 0 3.70 0a1.85 1.85 0 1 0 -3.70 0zM651.95 200.50a1.85 1.85 0 1 0 3.70 0a1.85 1.85 0 1 0 -3.70 0zM652.95 203.40a1.85 1.85 0 1 0 3.70 0a1.85 1.85 0 1 0 -3.70 0zM654.85 201.90a1.85 1.85 0 1 0 3.70 0a1.85 1.85 0 1 0 -3.70 0z" fill="none" stroke="#000" stroke-width="1.10"/>
<rect x="569.40" y="121.00" width="40.20" height="54.30" fill="none" stroke="#d09ed6" stroke-width="1.20"/>
<line x1="569.40" y1="175.30" x2="609.60" y2="175.30" stroke="#d09ed6" stroke-width="1.20"/>
<rect x="622.20" y="148.50" width="40.30" height="26.80" fill="none" stroke="#74d0b0" stroke-width="1.20"/>
<line x1="622.20" y1="148.50" x2="662.50" y2="148.50" stroke="#74d0b0" stroke-width="1.20"/>
<path d="M589.60 202.50V67.00M576.60 202.50H602.40M576.60 67.00H602.40" stroke="#1a1a1a" stroke-width="1.40" fill="none"/>
<path d="M642.20 203.00V121.40M629.30 203.00H655.50M629.30 121.40H655.50" stroke="#1a1a1a" stroke-width="1.40" fill="none"/>
<path d="M558.50 31.30V217.00" stroke="#505050" stroke-width="1.0" fill="none"/>
<path d="M558.00 31.80H674.80" stroke="#222" stroke-width="1.1" fill="none"/>
<path d="M674.20 31.30V217.00" stroke="#333" stroke-width="1.3" fill="none"/>
<path d="M558.00 216.40H674.80" stroke="#1a1a1a" stroke-width="1.2" fill="none"/>
<text transform="translate(521.46 288.20) scale(0.9324 0.9508)" font-size="24.0" font-weight="normal" stroke="#000" stroke-width="1.00" stroke-linejoin="round">H</text>
<text transform="translate(531.20 462.53) rotate(-90) scale(1.0235 1.0368)" font-size="15.0" font-weight="bold">Grains per panicle</text>
<line x1="567.1" y1="473.60" x2="571.4" y2="473.60" stroke="#111" stroke-width="1.2"/>
<text transform="translate(544.63 479.70) scale(1.0000 1.0767)" font-size="12.2" font-weight="bold">140</text>
<line x1="567.1" y1="439.84" x2="571.4" y2="439.84" stroke="#111" stroke-width="1.2"/>
<text transform="translate(544.63 445.94) scale(1.0000 1.0767)" font-size="12.2" font-weight="bold">160</text>
<line x1="567.1" y1="406.08" x2="571.4" y2="406.08" stroke="#111" stroke-width="1.2"/>
<text transform="translate(544.63 412.18) scale(1.0000 1.0767)" font-size="12.2" font-weight="bold">180</text>
<line x1="567.1" y1="372.32" x2="571.4" y2="372.32" stroke="#111" stroke-width="1.2"/>
<text transform="translate(544.63 378.42) scale(1.0000 1.0767)" font-size="12.2" font-weight="bold">200</text>
<line x1="567.1" y1="338.56" x2="571.4" y2="338.56" stroke="#111" stroke-width="1.2"/>
<text transform="translate(544.63 344.66) scale(1.0000 1.0767)" font-size="12.2" font-weight="bold">220</text>
<line x1="567.1" y1="304.80" x2="571.4" y2="304.80" stroke="#111" stroke-width="1.2"/>
<text transform="translate(544.63 310.90) scale(1.0000 1.0767)" font-size="12.2" font-weight="bold">240</text>
<line x1="598.8" y1="482.4" x2="598.8" y2="485.7" stroke="#111" stroke-width="1.2"/>
<line x1="645.4" y1="482.4" x2="645.4" y2="485.7" stroke="#111" stroke-width="1.2"/>
<text transform="translate(568.00 502.80) scale(0.9928 1.0659)" font-size="15.0" font-weight="bold">HIF-R</text>
<text transform="translate(617.99 502.80) scale(1.0114 1.0659)" font-size="15.0" font-weight="bold">HIF-S</text>
<text transform="translate(598.77 312.50) scale(1.0261 1.0349)" font-size="12.5" font-weight="bold"><tspan font-style="italic">P</tspan> = 0.43</text>
<path d="M611.35 354.50a1.85 1.85 0 1 0 3.70 0a1.85 1.85 0 1 0 -3.70 0zM603.15 359.60a1.85 1.85 0 1 0 3.70 0a1.85 1.85 0 1 0 -3.70 0zM615.75 360.30a1.85 1.85 0 1 0 3.70 0a1.85 1.85 0 1 0 -3.70 0zM580.85 365.40a1.85 1.85 0 1 0 3.70 0a1.85 1.85 0 1 0 -3.70 0zM589.55 369.30a1.85 1.85 0 1 0 3.70 0a1.85 1.85 0 1 0 -3.70 0zM598.85 368.10a1.85 1.85 0 1 0 3.70 0a1.85 1.85 0 1 0 -3.70 0zM582.75 370.60a1.85 1.85 0 1 0 3.70 0a1.85 1.85 0 1 0 -3.70 0zM584.75 373.50a1.85 1.85 0 1 0 3.70 0a1.85 1.85 0 1 0 -3.70 0zM579.45 375.90a1.85 1.85 0 1 0 3.70 0a1.85 1.85 0 1 0 -3.70 0zM599.65 373.90a1.85 1.85 0 1 0 3.70 0a1.85 1.85 0 1 0 -3.70 0zM607.45 373.90a1.85 1.85 0 1 0 3.70 0a1.85 1.85 0 1 0 -3.70 0zM610.55 369.30a1.85 1.85 0 1 0 3.70 0a1.85 1.85 0 1 0 -3.70 0zM591.15 379.80a1.85 1.85 0 1 0 3.70 0a1.85 1.85 0 1 0 -3.70 0zM595.05 384.20a1.85 1.85 0 1 0 3.70 0a1.85 1.85 0 1 0 -3.70 0zM598.85 385.60a1.85 1.85 0 1 0 3.70 0a1.85 1.85 0 1 0 -3.70 0zM582.75 388.10a1.85 1.85 0 1 0 3.70 0a1.85 1.85 0 1 0 -3.70 0zM588.55 390.00a1.85 1.85 0 1 0 3.70 0a1.85 1.85 0 1 0 -3.70 0zM595.75 390.60a1.85 1.85 0 1 0 3.70 0a1.85 1.85 0 1 0 -3.70 0zM586.65 393.90a1.85 1.85 0 1 0 3.70 0a1.85 1.85 0 1 0 -3.70 0zM598.35 394.90a1.85 1.85 0 1 0 3.70 0a1.85 1.85 0 1 0 -3.70 0zM606.65 393.90a1.85 1.85 0 1 0 3.70 0a1.85 1.85 0 1 0 -3.70 0zM609.95 394.90a1.85 1.85 0 1 0 3.70 0a1.85 1.85 0 1 0 -3.70 0zM615.75 392.60a1.85 1.85 0 1 0 3.70 0a1.85 1.85 0 1 0 -3.70 0zM610.95 399.20a1.85 1.85 0 1 0 3.70 0a1.85 1.85 0 1 0 -3.70 0zM593.85 403.60a1.85 1.85 0 1 0 3.70 0a1.85 1.85 0 1 0 -3.70 0zM605.45 404.20a1.85 1.85 0 1 0 3.70 0a1.85 1.85 0 1 0 -3.70 0zM608.95 403.60a1.85 1.85 0 1 0 3.70 0a1.85 1.85 0 1 0 -3.70 0zM604.75 406.90a1.85 1.85 0 1 0 3.70 0a1.85 1.85 0 1 0 -3.70 0zM587.25 410.40a1.85 1.85 0 1 0 3.70 0a1.85 1.85 0 1 0 -3.70 0zM611.35 410.00a1.85 1.85 0 1 0 3.70 0a1.85 1.85 0 1 0 -3.70 0zM590.55 414.70a1.85 1.85 0 1 0 3.70 0a1.85 1.85 0 1 0 -3.70 0zM594.45 414.70a1.85 1.85 0 1 0 3.70 0a1.85 1.85 0 1 0 -3.70 0zM606.65 414.70a1.85 1.85 0 1 0 3.70 0a1.85 1.85 0 1 0 -3.70 0zM580.85 416.30a1.85 1.85 0 1 0 3.70 0a1.85 1.85 0 1 0 -3.70 0zM613.25 417.20a1.85 1.85 0 1 0 3.70 0a1.85 1.85 0 1 0 -3.70 0zM615.75 418.60a1.85 1.85 0 1 0 3.70 0a1.85 1.85 0 1 0 -3.70 0zM608.05 421.70a1.85 1.85 0 1 0 3.70 0a1.85 1.85 0 1 0 -3.70 0zM611.35 422.50a1.85 1.85 0 1 0 3.70 0a1.85 1.85 0 1 0 -3.70 0zM613.25 424.00a1.85 1.85 0 1 0 3.70 0a1.85 1.85 0 1 0 -3.70 0zM580.25 423.80a1.85 1.85 0 1 0 3.70 0a1.85 1.85 0 1 0 -3.70 0zM583.75 423.80a1.85 1.85 0 1 0 3.70 0a1.85 1.85 0 1 0 -3.70 0zM582.15 426.20a1.85 1.85 0 1 0 3.70 0a1.85 1.85 0 1 0 -3.70 0zM584.75 428.70a1.85 1.85 0 1 0 3.70 0a1.85 1.85 0 1 0 -3.70 0zM597.35 427.30a1.85 1.85 0 1 0 3.70 0a1.85 1.85 0 1 0 -3.70 0zM593.45 431.20a1.85 1.85 0 1 0 3.70 0a1.85 1.85 0 1 0 -3.70 0zM606.65 430.00a1.85 1.85 0 1 0 3.70 0a1.85 1.85 0 1 0 -3.70 0zM591.85 439.80a1.85 1.85 0 1 0 3.70 0a1.85 1.85 0 1 0 -3.70 0zM600.85 438.40a1.85 1.85 0 1 0 3.70 0a1.85 1.85 0 1 0 -3.70 0z" fill="none" stroke="#000" stroke-width="1.10"/>
<path d="M655.95 334.70a1.85 1.85 0 1 0 3.70 0a1.85 1.85 0 1 0 -3.70 0zM636.55 339.00a1.85 1.85 0 1 0 3.70 0a1.85 1.85 0 1 0 -3.70 0zM628.15 351.20a1.85 1.85 0 1 0 3.70 0a1.85 1.85 0 1 0 -3.70 0zM630.15 355.70a1.85 1.85 0 1 0 3.70 0a1.85 1.85 0 1 0 -3.70 0zM634.05 365.40a1.85 1.85 0 1 0 3.70 0a1.85 1.85 0 1 0 -3.70 0zM649.55 364.80a1.85 1.85 0 1 0 3.70 0a1.85 1.85 0 1 0 -3.70 0zM648.15 366.70a1.85 1.85 0 1 0 3.70 0a1.85 1.85 0 1 0 -3.70 0zM630.75 373.50a1.85 1.85 0 1 0 3.70 0a1.85 1.85 0 1 0 -3.70 0zM636.55 375.10a1.85 1.85 0 1 0 3.70 0a1.85 1.85 0 1 0 -3.70 0zM639.85 378.40a1.85 1.85 0 1 0 3.70 0a1.85 1.85 0 1 0 -3.70 0zM653.05 377.40a1.85 1.85 0 1 0 3.70 0a1.85 1.85 0 1 0 -3.70 0zM651.15 381.70a1.85 1.85 0 1 0 3.70 0a1.85 1.85 0 1 0 -3.70 0zM659.25 382.30a1.85 1.85 0 1 0 3.70 0a1.85 1.85 0 1 0 -3.70 0zM625.85 384.80a1.85 1.85 0 1 0 3.70 0a1.85 1.85 0 1 0 -3.70 0zM641.05 386.70a1.85 1.85 0 1 0 3.70 0a1.85 1.85 0 1 0 -3.70 0zM630.75 388.10a1.85 1.85 0 1 0 3.70 0a1.85 1.85 0 1 0 -3.70 0zM653.05 388.10a1.85 1.85 0 1 0 3.70 0a1.85 1.85 0 1 0 -3.70 0zM629.75 393.90a1.85 1.85 0 1 0 3.70 0a1.85 1.85 0 1 0 -3.70 0zM634.55 398.40a1.85 1.85 0 1 0 3.70 0a1.85 1.85 0 1 0 -3.70 0zM655.35 394.50a1.85 1.85 0 1 0 3.70 0a1.85 1.85 0 1 0 -3.70 0zM662.35 395.90a1.85 1.85 0 1 0 3.70 0a1.85 1.85 0 1 0 -3.70 0zM653.05 398.80a1.85 1.85 0 1 0 3.70 0a1.85 1.85 0 1 0 -3.70 0zM649.55 401.70a1.85 1.85 0 1 0 3.70 0a1.85 1.85 0 1 0 -3.70 0zM626.25 403.60a1.85 1.85 0 1 0 3.70 0a1.85 1.85 0 1 0 -3.70 0zM631.65 403.10a1.85 1.85 0 1 0 3.70 0a1.85 1.85 0 1 0 -3.70 0zM634.05 406.60a1.85 1.85 0 1 0 3.70 0a1.85 1.85 0 1 0 -3.70 0zM631.65 408.90a1.85 1.85 0 1 0 3.70 0a1.85 1.85 0 1 0 -3.70 0zM641.05 406.60a1.85 1.85 0 1 0 3.70 0a1.85 1.85 0 1 0 -3.70 0zM644.85 408.10a1.85 1.85 0 1 0 3.70 0a1.85 1.85 0 1 0 -3.70 0zM650.15 406.60a1.85 1.85 0 1 0 3.70 0a1.85 1.85 0 1 0 -3.70 0zM651.15 408.90a1.85 1.85 0 1 0 3.70 0a1.85 1.85 0 1 0 -3.70 0zM653.45 410.40a1.85 1.85 0 1 0 3.70 0a1.85 1.85 0 1 0 -3.70 0zM662.35 408.10a1.85 1.85 0 1 0 3.70 0a1.85 1.85 0 1 0 -3.70 0zM651.15 416.30a1.85 1.85 0 1 0 3.70 0a1.85 1.85 0 1 0 -3.70 0zM636.55 418.20a1.85 1.85 0 1 0 3.70 0a1.85 1.85 0 1 0 -3.70 0zM633.25 421.10a1.85 1.85 0 1 0 3.70 0a1.85 1.85 0 1 0 -3.70 0zM652.05 423.10a1.85 1.85 0 1 0 3.70 0a1.85 1.85 0 1 0 -3.70 0zM626.25 430.00a1.85 1.85 0 1 0 3.70 0a1.85 1.85 0 1 0 -3.70 0zM642.35 431.20a1.85 1.85 0 1 0 3.70 0a1.85 1.85 0 1 0 -3.70 0zM642.75 431.60a1.85 1.85 0 1 0 3.70 0a1.85 1.85 0 1 0 -3.70 0zM651.15 433.90a1.85 1.85 0 1 0 3.70 0a1.85 1.85 0 1 0 -3.70 0zM662.15 431.60a1.85 1.85 0 1 0 3.70 0a1.85 1.85 0 1 0 -3.70 0zM632.05 438.40a1.85 1.85 0 1 0 3.70 0a1.85 1.85 0 1 0 -3.70 0zM636.55 437.40a1.85 1.85 0 1 0 3.70 0a1.85 1.85 0 1 0 -3.70 0zM627.45 443.30a1.85 1.85 0 1 0 3.70 0a1.85 1.85 0 1 0 -3.70 0zM655.95 440.90a1.85 1.85 0 1 0 3.70 0a1.85 1.85 0 1 0 -3.70 0zM641.35 446.70a1.85 1.85 0 1 0 3.70 0a1.85 1.85 0 1 0 -3.70 0zM646.85 445.60a1.85 1.85 0 1 0 3.70 0a1.85 1.85 0 1 0 -3.70 0zM651.15 451.40a1.85 1.85 0 1 0 3.70 0a1.85 1.85 0 1 0 -3.70 0zM659.25 452.60a1.85 1.85 0 1 0 3.70 0a1.85 1.85 0 1 0 -3.70 0zM659.85 469.90a1.85 1.85 0 1 0 3.70 0a1.85 1.85 0 1 0 -3.70 0z" fill="none" stroke="#000" stroke-width="1.10"/>
<rect x="581.30" y="378.40" width="35.70" height="41.30" fill="none" stroke="#d09ed6" stroke-width="1.20"/>
<line x1="581.30" y1="400.90" x2="617.00" y2="400.90" stroke="#d09ed6" stroke-width="1.20"/>
<rect x="628.10" y="386.20" width="35.50" height="38.00" fill="none" stroke="#74d0b0" stroke-width="1.20"/>
<line x1="628.10" y1="404.30" x2="663.60" y2="404.30" stroke="#74d0b0" stroke-width="1.20"/>
<path d="M598.80 439.80V354.50M587.30 439.80H610.20M587.30 354.50H610.20" stroke="#1a1a1a" stroke-width="1.40" fill="none"/>
<path d="M645.60 469.90V334.70M634.00 469.90H657.20M634.00 334.70H657.20" stroke="#1a1a1a" stroke-width="1.40" fill="none"/>
<path d="M571.50 297.20V483.00" stroke="#505050" stroke-width="1.0" fill="none"/>
<path d="M571.00 297.70H674.20" stroke="#222" stroke-width="1.1" fill="none"/>
<path d="M673.60 297.20V483.00" stroke="#333" stroke-width="1.3" fill="none"/>
<path d="M571.00 482.40H674.20" stroke="#1a1a1a" stroke-width="1.2" fill="none"/>
</svg></body></html>
